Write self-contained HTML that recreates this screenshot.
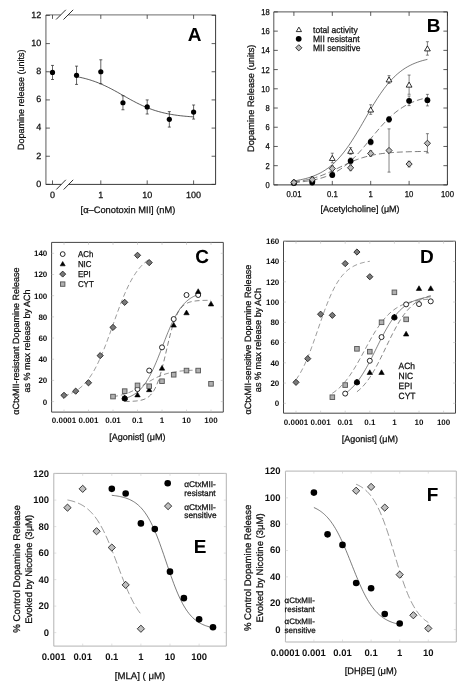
<!DOCTYPE html>
<html><head><meta charset="utf-8"><style>
html,body{margin:0;padding:0;background:#fff;}
svg{display:block;will-change:transform;}
text{font-family:"Liberation Sans", sans-serif;text-rendering:geometricPrecision;}
text.n{stroke:#000;stroke-width:0.25px;}
</style></head><body>
<svg width="465" height="688" viewBox="0 0 465 688">
<rect width="465" height="688" fill="#fff"/>
<line x1="45.90" y1="14.90" x2="215.60" y2="14.90" stroke="#8a8a8a" stroke-width="1.1" />
<line x1="45.90" y1="14.90" x2="45.90" y2="184.40" stroke="#8a8a8a" stroke-width="1.4" />
<line x1="45.90" y1="184.40" x2="215.60" y2="184.40" stroke="#3a3a3a" stroke-width="1.0" />
<line x1="215.60" y1="14.90" x2="215.60" y2="184.40" stroke="#3a3a3a" stroke-width="1.0" />
<rect x="60.6" y="12.9" width="7.6" height="4" fill="#fff"/>
<rect x="61.2" y="182.4" width="7.4" height="4" fill="#fff"/>
<line x1="56.30" y1="189.50" x2="65.80" y2="179.80" stroke="#1a1a1a" stroke-width="0.9" />
<line x1="63.70" y1="189.50" x2="73.20" y2="179.80" stroke="#1a1a1a" stroke-width="0.9" />
<line x1="56.10" y1="19.50" x2="65.80" y2="9.80" stroke="#1a1a1a" stroke-width="0.9" />
<line x1="63.50" y1="19.50" x2="73.20" y2="9.80" stroke="#1a1a1a" stroke-width="0.9" />
<line x1="45.90" y1="184.40" x2="49.90" y2="184.40" stroke="#333" stroke-width="0.8" />
<line x1="215.60" y1="184.40" x2="211.60" y2="184.40" stroke="#333" stroke-width="0.8" />
<text x="41.30" y="186.70" font-size="9" text-anchor="end" font-weight="normal" fill="#1a1a1a"  class="n">0</text>
<line x1="45.90" y1="156.24" x2="49.90" y2="156.24" stroke="#333" stroke-width="0.8" />
<line x1="215.60" y1="156.24" x2="211.60" y2="156.24" stroke="#333" stroke-width="0.8" />
<text x="41.30" y="158.54" font-size="9" text-anchor="end" font-weight="normal" fill="#1a1a1a"  class="n">2</text>
<line x1="45.90" y1="128.08" x2="49.90" y2="128.08" stroke="#333" stroke-width="0.8" />
<line x1="215.60" y1="128.08" x2="211.60" y2="128.08" stroke="#333" stroke-width="0.8" />
<text x="41.30" y="130.38" font-size="9" text-anchor="end" font-weight="normal" fill="#1a1a1a"  class="n">4</text>
<line x1="45.90" y1="99.92" x2="49.90" y2="99.92" stroke="#333" stroke-width="0.8" />
<line x1="215.60" y1="99.92" x2="211.60" y2="99.92" stroke="#333" stroke-width="0.8" />
<text x="41.30" y="102.22" font-size="9" text-anchor="end" font-weight="normal" fill="#1a1a1a"  class="n">6</text>
<line x1="45.90" y1="71.76" x2="49.90" y2="71.76" stroke="#333" stroke-width="0.8" />
<line x1="215.60" y1="71.76" x2="211.60" y2="71.76" stroke="#333" stroke-width="0.8" />
<text x="41.30" y="74.06" font-size="9" text-anchor="end" font-weight="normal" fill="#1a1a1a"  class="n">8</text>
<line x1="45.90" y1="43.60" x2="49.90" y2="43.60" stroke="#333" stroke-width="0.8" />
<line x1="215.60" y1="43.60" x2="211.60" y2="43.60" stroke="#333" stroke-width="0.8" />
<text x="41.30" y="45.90" font-size="9" text-anchor="end" font-weight="normal" fill="#1a1a1a"  class="n">10</text>
<line x1="45.90" y1="15.44" x2="49.90" y2="15.44" stroke="#333" stroke-width="0.8" />
<line x1="215.60" y1="15.44" x2="211.60" y2="15.44" stroke="#333" stroke-width="0.8" />
<text x="41.30" y="17.74" font-size="9" text-anchor="end" font-weight="normal" fill="#1a1a1a"  class="n">12</text>
<line x1="52.50" y1="184.40" x2="52.50" y2="180.40" stroke="#333" stroke-width="0.8" />
<line x1="52.50" y1="14.90" x2="52.50" y2="18.90" stroke="#333" stroke-width="0.8" />
<text x="52.50" y="198.00" font-size="9" text-anchor="middle" font-weight="normal" fill="#1a1a1a"  class="n">0</text>
<line x1="100.80" y1="184.40" x2="100.80" y2="180.40" stroke="#333" stroke-width="0.8" />
<line x1="100.80" y1="14.90" x2="100.80" y2="18.90" stroke="#333" stroke-width="0.8" />
<text x="100.80" y="198.00" font-size="9" text-anchor="middle" font-weight="normal" fill="#1a1a1a"  class="n">1</text>
<line x1="147.20" y1="184.40" x2="147.20" y2="180.40" stroke="#333" stroke-width="0.8" />
<line x1="147.20" y1="14.90" x2="147.20" y2="18.90" stroke="#333" stroke-width="0.8" />
<text x="147.20" y="198.00" font-size="9" text-anchor="middle" font-weight="normal" fill="#1a1a1a"  class="n">10</text>
<line x1="193.60" y1="184.40" x2="193.60" y2="180.40" stroke="#333" stroke-width="0.8" />
<line x1="193.60" y1="14.90" x2="193.60" y2="18.90" stroke="#333" stroke-width="0.8" />
<text x="193.60" y="198.00" font-size="9" text-anchor="middle" font-weight="normal" fill="#1a1a1a"  class="n">100</text>
<text x="128.00" y="212.80" font-size="9.3" text-anchor="middle" font-weight="normal" fill="#1a1a1a"  class="n">[&#945;&#8211;Conotoxin MII] (nM)</text>
<text x="24.10" y="99.70" font-size="9" text-anchor="middle" font-weight="normal" fill="#1a1a1a" transform="rotate(-90 24.10 99.70)"  class="n">Dopamine release (units)</text>
<text x="194.50" y="40.60" font-size="19" text-anchor="middle" font-weight="bold" fill="#000" >A</text>
<path d="M76.54,76.62 L78.00,76.91 L79.46,77.21 L80.93,77.52 L82.39,77.86 L83.85,78.22 L85.32,78.59 L86.78,78.99 L88.24,79.40 L89.71,79.84 L91.17,80.30 L92.63,80.79 L94.10,81.29 L95.56,81.82 L97.02,82.37 L98.49,82.95 L99.95,83.55 L101.41,84.17 L102.88,84.81 L104.34,85.48 L105.80,86.16 L107.27,86.87 L108.73,87.60 L110.19,88.34 L111.66,89.10 L113.12,89.88 L114.58,90.67 L116.05,91.47 L117.51,92.28 L118.97,93.10 L120.44,93.93 L121.90,94.75 L123.36,95.59 L124.83,96.41 L126.29,97.24 L127.75,98.06 L129.22,98.88 L130.68,99.69 L132.14,100.48 L133.61,101.26 L135.07,102.03 L136.53,102.78 L138.00,103.52 L139.46,104.23 L140.92,104.93 L142.39,105.60 L143.85,106.25 L145.31,106.88 L146.78,107.49 L148.24,108.08 L149.70,108.64 L151.17,109.18 L152.63,109.69 L154.09,110.19 L155.55,110.66 L157.02,111.10 L158.48,111.53 L159.94,111.93 L161.41,112.32 L162.87,112.68 L164.33,113.02 L165.80,113.35 L167.26,113.66 L168.72,113.95 L170.19,114.22 L171.65,114.48 L173.11,114.72 L174.58,114.95 L176.04,115.16 L177.50,115.36 L178.97,115.55 L180.43,115.73 L181.89,115.89 L183.36,116.05 L184.82,116.20 L186.28,116.33 L187.75,116.46 L189.21,116.58 L190.67,116.69 L192.14,116.79 L193.60,116.89" fill="none" stroke="#111" stroke-width="0.7"/>
<line x1="52.50" y1="65.42" x2="52.50" y2="79.50" stroke="#222" stroke-width="0.7" />
<line x1="51.00" y1="65.42" x2="54.00" y2="65.42" stroke="#222" stroke-width="0.7" />
<line x1="51.00" y1="79.50" x2="54.00" y2="79.50" stroke="#222" stroke-width="0.7" />
<circle cx="52.50" cy="72.46" r="2.6" fill="#000" stroke="none" stroke-width="0.8"/>
<line x1="76.54" y1="66.13" x2="76.54" y2="84.43" stroke="#222" stroke-width="0.7" />
<line x1="75.04" y1="66.13" x2="78.04" y2="66.13" stroke="#222" stroke-width="0.7" />
<line x1="75.04" y1="84.43" x2="78.04" y2="84.43" stroke="#222" stroke-width="0.7" />
<circle cx="76.54" cy="75.28" r="2.6" fill="#000" stroke="none" stroke-width="0.8"/>
<line x1="100.80" y1="59.79" x2="100.80" y2="83.73" stroke="#222" stroke-width="0.7" />
<line x1="99.30" y1="59.79" x2="102.30" y2="59.79" stroke="#222" stroke-width="0.7" />
<line x1="99.30" y1="83.73" x2="102.30" y2="83.73" stroke="#222" stroke-width="0.7" />
<circle cx="100.80" cy="71.76" r="2.6" fill="#000" stroke="none" stroke-width="0.8"/>
<line x1="122.94" y1="95.70" x2="122.94" y2="109.78" stroke="#222" stroke-width="0.7" />
<line x1="121.44" y1="95.70" x2="124.44" y2="95.70" stroke="#222" stroke-width="0.7" />
<line x1="121.44" y1="109.78" x2="124.44" y2="109.78" stroke="#222" stroke-width="0.7" />
<circle cx="122.94" cy="102.74" r="2.6" fill="#000" stroke="none" stroke-width="0.8"/>
<line x1="147.20" y1="99.92" x2="147.20" y2="114.00" stroke="#222" stroke-width="0.7" />
<line x1="145.70" y1="99.92" x2="148.70" y2="99.92" stroke="#222" stroke-width="0.7" />
<line x1="145.70" y1="114.00" x2="148.70" y2="114.00" stroke="#222" stroke-width="0.7" />
<circle cx="147.20" cy="106.96" r="2.6" fill="#000" stroke="none" stroke-width="0.8"/>
<line x1="169.34" y1="111.61" x2="169.34" y2="127.09" stroke="#222" stroke-width="0.7" />
<line x1="167.84" y1="111.61" x2="170.84" y2="111.61" stroke="#222" stroke-width="0.7" />
<line x1="167.84" y1="127.09" x2="170.84" y2="127.09" stroke="#222" stroke-width="0.7" />
<circle cx="169.34" cy="119.35" r="2.6" fill="#000" stroke="none" stroke-width="0.8"/>
<line x1="193.60" y1="104.99" x2="193.60" y2="119.07" stroke="#222" stroke-width="0.7" />
<line x1="192.10" y1="104.99" x2="195.10" y2="104.99" stroke="#222" stroke-width="0.7" />
<line x1="192.10" y1="119.07" x2="195.10" y2="119.07" stroke="#222" stroke-width="0.7" />
<circle cx="193.60" cy="112.03" r="2.6" fill="#000" stroke="none" stroke-width="0.8"/>
<line x1="273.80" y1="11.90" x2="447.40" y2="11.90" stroke="#555" stroke-width="1.0" />
<line x1="273.80" y1="11.90" x2="273.80" y2="184.90" stroke="#555" stroke-width="1.0" />
<line x1="273.80" y1="184.90" x2="447.40" y2="184.90" stroke="#3a3a3a" stroke-width="1.0" />
<line x1="447.40" y1="11.90" x2="447.40" y2="184.90" stroke="#3a3a3a" stroke-width="1.0" />
<line x1="273.80" y1="184.90" x2="277.80" y2="184.90" stroke="#333" stroke-width="0.8" />
<line x1="447.40" y1="184.90" x2="443.40" y2="184.90" stroke="#333" stroke-width="0.8" />
<text x="0" y="0" font-size="8.6" text-anchor="end" font-weight="normal" fill="#1a1a1a" transform="translate(269.60 187.90) scale(0.88 1)"  class="n">0</text>
<line x1="273.80" y1="165.68" x2="277.80" y2="165.68" stroke="#333" stroke-width="0.8" />
<line x1="447.40" y1="165.68" x2="443.40" y2="165.68" stroke="#333" stroke-width="0.8" />
<text x="0" y="0" font-size="8.6" text-anchor="end" font-weight="normal" fill="#1a1a1a" transform="translate(269.60 168.68) scale(0.88 1)"  class="n">2</text>
<line x1="273.80" y1="146.46" x2="277.80" y2="146.46" stroke="#333" stroke-width="0.8" />
<line x1="447.40" y1="146.46" x2="443.40" y2="146.46" stroke="#333" stroke-width="0.8" />
<text x="0" y="0" font-size="8.6" text-anchor="end" font-weight="normal" fill="#1a1a1a" transform="translate(269.60 149.46) scale(0.88 1)"  class="n">4</text>
<line x1="273.80" y1="127.24" x2="277.80" y2="127.24" stroke="#333" stroke-width="0.8" />
<line x1="447.40" y1="127.24" x2="443.40" y2="127.24" stroke="#333" stroke-width="0.8" />
<text x="0" y="0" font-size="8.6" text-anchor="end" font-weight="normal" fill="#1a1a1a" transform="translate(269.60 130.24) scale(0.88 1)"  class="n">6</text>
<line x1="273.80" y1="108.02" x2="277.80" y2="108.02" stroke="#333" stroke-width="0.8" />
<line x1="447.40" y1="108.02" x2="443.40" y2="108.02" stroke="#333" stroke-width="0.8" />
<text x="0" y="0" font-size="8.6" text-anchor="end" font-weight="normal" fill="#1a1a1a" transform="translate(269.60 111.02) scale(0.88 1)"  class="n">8</text>
<line x1="273.80" y1="88.80" x2="277.80" y2="88.80" stroke="#333" stroke-width="0.8" />
<line x1="447.40" y1="88.80" x2="443.40" y2="88.80" stroke="#333" stroke-width="0.8" />
<text x="0" y="0" font-size="8.6" text-anchor="end" font-weight="normal" fill="#1a1a1a" transform="translate(269.60 91.80) scale(0.88 1)"  class="n">10</text>
<line x1="273.80" y1="69.58" x2="277.80" y2="69.58" stroke="#333" stroke-width="0.8" />
<line x1="447.40" y1="69.58" x2="443.40" y2="69.58" stroke="#333" stroke-width="0.8" />
<text x="0" y="0" font-size="8.6" text-anchor="end" font-weight="normal" fill="#1a1a1a" transform="translate(269.60 72.58) scale(0.88 1)"  class="n">12</text>
<line x1="273.80" y1="50.36" x2="277.80" y2="50.36" stroke="#333" stroke-width="0.8" />
<line x1="447.40" y1="50.36" x2="443.40" y2="50.36" stroke="#333" stroke-width="0.8" />
<text x="0" y="0" font-size="8.6" text-anchor="end" font-weight="normal" fill="#1a1a1a" transform="translate(269.60 53.36) scale(0.88 1)"  class="n">14</text>
<line x1="273.80" y1="31.14" x2="277.80" y2="31.14" stroke="#333" stroke-width="0.8" />
<line x1="447.40" y1="31.14" x2="443.40" y2="31.14" stroke="#333" stroke-width="0.8" />
<text x="0" y="0" font-size="8.6" text-anchor="end" font-weight="normal" fill="#1a1a1a" transform="translate(269.60 34.14) scale(0.88 1)"  class="n">16</text>
<line x1="273.80" y1="11.92" x2="277.80" y2="11.92" stroke="#333" stroke-width="0.8" />
<line x1="447.40" y1="11.92" x2="443.40" y2="11.92" stroke="#333" stroke-width="0.8" />
<text x="0" y="0" font-size="8.6" text-anchor="end" font-weight="normal" fill="#1a1a1a" transform="translate(269.60 14.92) scale(0.88 1)"  class="n">18</text>
<line x1="293.90" y1="184.90" x2="293.90" y2="180.90" stroke="#333" stroke-width="0.8" />
<line x1="293.90" y1="11.90" x2="293.90" y2="15.90" stroke="#333" stroke-width="0.8" />
<text x="0" y="0" font-size="8.6" text-anchor="middle" font-weight="normal" fill="#1a1a1a" transform="translate(293.90 197.20) scale(0.9 1)"  class="n">0.01</text>
<line x1="332.30" y1="184.90" x2="332.30" y2="180.90" stroke="#333" stroke-width="0.8" />
<line x1="332.30" y1="11.90" x2="332.30" y2="15.90" stroke="#333" stroke-width="0.8" />
<text x="0" y="0" font-size="8.6" text-anchor="middle" font-weight="normal" fill="#1a1a1a" transform="translate(332.30 197.20) scale(0.9 1)"  class="n">0.1</text>
<line x1="370.70" y1="184.90" x2="370.70" y2="180.90" stroke="#333" stroke-width="0.8" />
<line x1="370.70" y1="11.90" x2="370.70" y2="15.90" stroke="#333" stroke-width="0.8" />
<text x="0" y="0" font-size="8.6" text-anchor="middle" font-weight="normal" fill="#1a1a1a" transform="translate(370.70 197.20) scale(0.9 1)"  class="n">1</text>
<line x1="409.10" y1="184.90" x2="409.10" y2="180.90" stroke="#333" stroke-width="0.8" />
<line x1="409.10" y1="11.90" x2="409.10" y2="15.90" stroke="#333" stroke-width="0.8" />
<text x="0" y="0" font-size="8.6" text-anchor="middle" font-weight="normal" fill="#1a1a1a" transform="translate(409.10 197.20) scale(0.9 1)"  class="n">10</text>
<line x1="447.50" y1="184.90" x2="447.50" y2="180.90" stroke="#333" stroke-width="0.8" />
<line x1="447.50" y1="11.90" x2="447.50" y2="15.90" stroke="#333" stroke-width="0.8" />
<text x="0" y="0" font-size="8.6" text-anchor="middle" font-weight="normal" fill="#1a1a1a" transform="translate(447.50 197.20) scale(0.9 1)"  class="n">100</text>
<text x="360.00" y="212.00" font-size="9" text-anchor="middle" font-weight="normal" fill="#1a1a1a"  class="n">[Acetylcholine] (&#956;M)</text>
<text x="254.10" y="98.30" font-size="9.3" text-anchor="middle" font-weight="normal" fill="#1a1a1a" transform="rotate(-90 254.10 98.30)"  class="n">Dopamine Release (units)</text>
<text x="433.50" y="31.50" font-size="19" text-anchor="middle" font-weight="bold" fill="#000" >B</text>
<polygon points="296.30,31.60 301.50,31.60 298.90,27.10" fill="#fff" stroke="#000" stroke-width="0.8" stroke-linejoin="miter"/>
<circle cx="298.70" cy="38.80" r="2.9" fill="#000" stroke="none" stroke-width="0.8"/>
<polygon points="298.80,44.70 301.90,47.80 298.80,50.90 295.70,47.80" fill="#bbb" stroke="#222" stroke-width="0.9"/>
<text x="0" y="0" font-size="9" text-anchor="start" font-weight="normal" fill="#1a1a1a" transform="translate(313.00 33.40) scale(0.95 1)"  class="n">total activity</text>
<text x="0" y="0" font-size="9" text-anchor="start" font-weight="normal" fill="#1a1a1a" transform="translate(313.00 42.10) scale(0.95 1)"  class="n">MII resistant</text>
<text x="0" y="0" font-size="9" text-anchor="start" font-weight="normal" fill="#1a1a1a" transform="translate(313.00 50.80) scale(0.95 1)"  class="n">MII sensitive</text>
<path d="M293.90,180.90 L295.57,180.65 L297.24,180.38 L298.91,180.07 L300.58,179.75 L302.25,179.39 L303.91,179.01 L305.58,178.59 L307.25,178.13 L308.92,177.63 L310.59,177.09 L312.26,176.51 L313.93,175.88 L315.60,175.19 L317.27,174.45 L318.94,173.65 L320.60,172.79 L322.27,171.86 L323.94,170.86 L325.61,169.79 L327.28,168.63 L328.95,167.40 L330.62,166.07 L332.29,164.66 L333.96,163.16 L335.63,161.56 L337.29,159.86 L338.96,158.06 L340.63,156.17 L342.30,154.17 L343.97,152.08 L345.64,149.88 L347.31,147.59 L348.98,145.21 L350.65,142.74 L352.32,140.19 L353.98,137.56 L355.65,134.87 L357.32,132.12 L358.99,129.31 L360.66,126.47 L362.33,123.60 L364.00,120.71 L365.67,117.82 L367.34,114.93 L369.01,112.07 L370.67,109.23 L372.34,106.43 L374.01,103.68 L375.68,100.99 L377.35,98.37 L379.02,95.83 L380.69,93.37 L382.36,90.99 L384.03,88.71 L385.70,86.53 L387.37,84.44 L389.03,82.46 L390.70,80.57 L392.37,78.79 L394.04,77.10 L395.71,75.51 L397.38,74.01 L399.05,72.61 L400.72,71.30 L402.39,70.07 L404.06,68.92 L405.72,67.85 L407.39,66.86 L409.06,65.94 L410.73,65.08 L412.40,64.29 L414.07,63.55 L415.74,62.87 L417.41,62.25 L419.08,61.67 L420.75,61.13 L422.41,60.64 L424.08,60.19 L425.75,59.77 L427.42,59.39" fill="none" stroke="#222" stroke-width="0.6"/>
<path d="M293.90,182.53 L295.57,182.40 L297.24,182.26 L298.91,182.10 L300.58,181.93 L302.25,181.75 L303.91,181.55 L305.58,181.33 L307.25,181.09 L308.92,180.83 L310.59,180.55 L312.26,180.24 L313.93,179.91 L315.60,179.55 L317.27,179.15 L318.94,178.73 L320.60,178.27 L322.27,177.77 L323.94,177.23 L325.61,176.65 L327.28,176.03 L328.95,175.35 L330.62,174.62 L332.29,173.84 L333.96,173.01 L335.63,172.11 L337.29,171.16 L338.96,170.13 L340.63,169.05 L342.30,167.89 L343.97,166.67 L345.64,165.38 L347.31,164.01 L348.98,162.58 L350.65,161.08 L352.32,159.50 L353.98,157.87 L355.65,156.16 L357.32,154.40 L358.99,152.59 L360.66,150.72 L362.33,148.80 L364.00,146.85 L365.67,144.87 L367.34,142.86 L369.01,140.84 L370.67,138.80 L372.34,136.77 L374.01,134.75 L375.68,132.74 L377.35,130.75 L379.02,128.80 L380.69,126.88 L382.36,125.01 L384.03,123.20 L385.70,121.43 L387.37,119.73 L389.03,118.09 L390.70,116.51 L392.37,115.01 L394.04,113.57 L395.71,112.21 L397.38,110.91 L399.05,109.69 L400.72,108.53 L402.39,107.44 L404.06,106.42 L405.72,105.46 L407.39,104.56 L409.06,103.72 L410.73,102.94 L412.40,102.21 L414.07,101.54 L415.74,100.91 L417.41,100.33 L419.08,99.79 L420.75,99.29 L422.41,98.83 L424.08,98.40 L425.75,98.01 L427.42,97.65" fill="none" stroke="#222" stroke-width="0.6" stroke-dasharray="6,3"/>
<path d="M293.90,181.90 L295.57,181.70 L297.24,181.48 L298.91,181.24 L300.58,180.98 L302.25,180.70 L303.91,180.40 L305.58,180.07 L307.25,179.72 L308.92,179.33 L310.59,178.92 L312.26,178.48 L313.93,178.01 L315.60,177.51 L317.27,176.98 L318.94,176.42 L320.60,175.82 L322.27,175.19 L323.94,174.54 L325.61,173.85 L327.28,173.14 L328.95,172.41 L330.62,171.65 L332.29,170.88 L333.96,170.08 L335.63,169.28 L337.29,168.47 L338.96,167.65 L340.63,166.83 L342.30,166.02 L343.97,165.21 L345.64,164.42 L347.31,163.64 L348.98,162.88 L350.65,162.15 L352.32,161.43 L353.98,160.74 L355.65,160.09 L357.32,159.46 L358.99,158.86 L360.66,158.29 L362.33,157.75 L364.00,157.25 L365.67,156.77 L367.34,156.33 L369.01,155.92 L370.67,155.53 L372.34,155.17 L374.01,154.84 L375.68,154.54 L377.35,154.25 L379.02,153.99 L380.69,153.75 L382.36,153.53 L384.03,153.33 L385.70,153.14 L387.37,152.97 L389.03,152.82 L390.70,152.68 L392.37,152.55 L394.04,152.43 L395.71,152.32 L397.38,152.23 L399.05,152.14 L400.72,152.06 L402.39,151.98 L404.06,151.92 L405.72,151.85 L407.39,151.80 L409.06,151.75 L410.73,151.70 L412.40,151.66 L414.07,151.62 L415.74,151.59 L417.41,151.56 L419.08,151.53 L420.75,151.51 L422.41,151.48 L424.08,151.46 L425.75,151.44 L427.42,151.43" fill="none" stroke="#222" stroke-width="0.6" stroke-dasharray="6,3"/>
<line x1="293.90" y1="180.29" x2="293.90" y2="183.17" stroke="#333" stroke-width="0.6" />
<line x1="292.40" y1="180.29" x2="295.40" y2="180.29" stroke="#333" stroke-width="0.6" />
<line x1="292.40" y1="183.17" x2="295.40" y2="183.17" stroke="#333" stroke-width="0.6" />
<line x1="312.22" y1="176.83" x2="312.22" y2="180.67" stroke="#333" stroke-width="0.6" />
<line x1="310.72" y1="176.83" x2="313.72" y2="176.83" stroke="#333" stroke-width="0.6" />
<line x1="310.72" y1="180.67" x2="313.72" y2="180.67" stroke="#333" stroke-width="0.6" />
<line x1="332.30" y1="153.19" x2="332.30" y2="162.80" stroke="#333" stroke-width="0.6" />
<line x1="330.80" y1="153.19" x2="333.80" y2="153.19" stroke="#333" stroke-width="0.6" />
<line x1="330.80" y1="162.80" x2="333.80" y2="162.80" stroke="#333" stroke-width="0.6" />
<line x1="350.62" y1="147.52" x2="350.62" y2="154.24" stroke="#333" stroke-width="0.6" />
<line x1="349.12" y1="147.52" x2="352.12" y2="147.52" stroke="#333" stroke-width="0.6" />
<line x1="349.12" y1="154.24" x2="352.12" y2="154.24" stroke="#333" stroke-width="0.6" />
<line x1="370.70" y1="104.75" x2="370.70" y2="114.36" stroke="#333" stroke-width="0.6" />
<line x1="369.20" y1="104.75" x2="372.20" y2="104.75" stroke="#333" stroke-width="0.6" />
<line x1="369.20" y1="114.36" x2="372.20" y2="114.36" stroke="#333" stroke-width="0.6" />
<line x1="389.02" y1="75.63" x2="389.02" y2="83.32" stroke="#333" stroke-width="0.6" />
<line x1="387.52" y1="75.63" x2="390.52" y2="75.63" stroke="#333" stroke-width="0.6" />
<line x1="387.52" y1="83.32" x2="390.52" y2="83.32" stroke="#333" stroke-width="0.6" />
<line x1="409.10" y1="75.06" x2="409.10" y2="94.28" stroke="#333" stroke-width="0.6" />
<line x1="407.60" y1="75.06" x2="410.60" y2="75.06" stroke="#333" stroke-width="0.6" />
<line x1="407.60" y1="94.28" x2="410.60" y2="94.28" stroke="#333" stroke-width="0.6" />
<line x1="427.42" y1="41.71" x2="427.42" y2="55.17" stroke="#333" stroke-width="0.6" />
<line x1="425.92" y1="41.71" x2="428.92" y2="41.71" stroke="#333" stroke-width="0.6" />
<line x1="425.92" y1="55.17" x2="428.92" y2="55.17" stroke="#333" stroke-width="0.6" />
<line x1="293.90" y1="182.02" x2="293.90" y2="183.94" stroke="#333" stroke-width="0.6" />
<line x1="292.40" y1="182.02" x2="295.40" y2="182.02" stroke="#333" stroke-width="0.6" />
<line x1="292.40" y1="183.94" x2="295.40" y2="183.94" stroke="#333" stroke-width="0.6" />
<line x1="312.22" y1="181.54" x2="312.22" y2="183.46" stroke="#333" stroke-width="0.6" />
<line x1="310.72" y1="181.54" x2="313.72" y2="181.54" stroke="#333" stroke-width="0.6" />
<line x1="310.72" y1="183.46" x2="313.72" y2="183.46" stroke="#333" stroke-width="0.6" />
<line x1="332.30" y1="173.08" x2="332.30" y2="176.92" stroke="#333" stroke-width="0.6" />
<line x1="330.80" y1="173.08" x2="333.80" y2="173.08" stroke="#333" stroke-width="0.6" />
<line x1="330.80" y1="176.92" x2="333.80" y2="176.92" stroke="#333" stroke-width="0.6" />
<line x1="350.62" y1="157.99" x2="350.62" y2="163.76" stroke="#333" stroke-width="0.6" />
<line x1="349.12" y1="157.99" x2="352.12" y2="157.99" stroke="#333" stroke-width="0.6" />
<line x1="349.12" y1="163.76" x2="352.12" y2="163.76" stroke="#333" stroke-width="0.6" />
<line x1="370.70" y1="139.06" x2="370.70" y2="144.83" stroke="#333" stroke-width="0.6" />
<line x1="369.20" y1="139.06" x2="372.20" y2="139.06" stroke="#333" stroke-width="0.6" />
<line x1="369.20" y1="144.83" x2="372.20" y2="144.83" stroke="#333" stroke-width="0.6" />
<line x1="389.02" y1="116.48" x2="389.02" y2="122.24" stroke="#333" stroke-width="0.6" />
<line x1="387.52" y1="116.48" x2="390.52" y2="116.48" stroke="#333" stroke-width="0.6" />
<line x1="387.52" y1="122.24" x2="390.52" y2="122.24" stroke="#333" stroke-width="0.6" />
<line x1="409.10" y1="96.01" x2="409.10" y2="105.62" stroke="#333" stroke-width="0.6" />
<line x1="407.60" y1="96.01" x2="410.60" y2="96.01" stroke="#333" stroke-width="0.6" />
<line x1="407.60" y1="105.62" x2="410.60" y2="105.62" stroke="#333" stroke-width="0.6" />
<line x1="427.42" y1="94.37" x2="427.42" y2="105.91" stroke="#333" stroke-width="0.6" />
<line x1="425.92" y1="94.37" x2="428.92" y2="94.37" stroke="#333" stroke-width="0.6" />
<line x1="425.92" y1="105.91" x2="428.92" y2="105.91" stroke="#333" stroke-width="0.6" />
<line x1="293.90" y1="181.54" x2="293.90" y2="183.46" stroke="#333" stroke-width="0.6" />
<line x1="292.40" y1="181.54" x2="295.40" y2="181.54" stroke="#333" stroke-width="0.6" />
<line x1="292.40" y1="183.46" x2="295.40" y2="183.46" stroke="#333" stroke-width="0.6" />
<line x1="312.22" y1="177.69" x2="312.22" y2="181.54" stroke="#333" stroke-width="0.6" />
<line x1="310.72" y1="177.69" x2="313.72" y2="177.69" stroke="#333" stroke-width="0.6" />
<line x1="310.72" y1="181.54" x2="313.72" y2="181.54" stroke="#333" stroke-width="0.6" />
<line x1="332.30" y1="165.68" x2="332.30" y2="171.45" stroke="#333" stroke-width="0.6" />
<line x1="330.80" y1="165.68" x2="333.80" y2="165.68" stroke="#333" stroke-width="0.6" />
<line x1="330.80" y1="171.45" x2="333.80" y2="171.45" stroke="#333" stroke-width="0.6" />
<line x1="350.62" y1="164.91" x2="350.62" y2="170.68" stroke="#333" stroke-width="0.6" />
<line x1="349.12" y1="164.91" x2="352.12" y2="164.91" stroke="#333" stroke-width="0.6" />
<line x1="349.12" y1="170.68" x2="352.12" y2="170.68" stroke="#333" stroke-width="0.6" />
<line x1="370.70" y1="150.59" x2="370.70" y2="156.36" stroke="#333" stroke-width="0.6" />
<line x1="369.20" y1="150.59" x2="372.20" y2="150.59" stroke="#333" stroke-width="0.6" />
<line x1="369.20" y1="156.36" x2="372.20" y2="156.36" stroke="#333" stroke-width="0.6" />
<line x1="389.02" y1="128.87" x2="389.02" y2="172.12" stroke="#333" stroke-width="0.6" />
<line x1="387.52" y1="128.87" x2="390.52" y2="128.87" stroke="#333" stroke-width="0.6" />
<line x1="387.52" y1="172.12" x2="390.52" y2="172.12" stroke="#333" stroke-width="0.6" />
<line x1="409.10" y1="161.16" x2="409.10" y2="166.93" stroke="#333" stroke-width="0.6" />
<line x1="407.60" y1="161.16" x2="410.60" y2="161.16" stroke="#333" stroke-width="0.6" />
<line x1="407.60" y1="166.93" x2="410.60" y2="166.93" stroke="#333" stroke-width="0.6" />
<line x1="427.42" y1="133.68" x2="427.42" y2="152.90" stroke="#333" stroke-width="0.6" />
<line x1="425.92" y1="133.68" x2="428.92" y2="133.68" stroke="#333" stroke-width="0.6" />
<line x1="425.92" y1="152.90" x2="428.92" y2="152.90" stroke="#333" stroke-width="0.6" />
<polygon points="291.00,184.20 296.80,184.20 293.90,179.18" fill="#fff" stroke="#000" stroke-width="0.8" stroke-linejoin="miter"/>
<polygon points="309.32,181.22 315.12,181.22 312.22,176.20" fill="#fff" stroke="#000" stroke-width="0.8" stroke-linejoin="miter"/>
<polygon points="329.40,160.47 335.20,160.47 332.30,155.44" fill="#fff" stroke="#000" stroke-width="0.8" stroke-linejoin="miter"/>
<polygon points="347.72,153.35 353.52,153.35 350.62,148.33" fill="#fff" stroke="#000" stroke-width="0.8" stroke-linejoin="miter"/>
<polygon points="367.80,112.03 373.60,112.03 370.70,107.01" fill="#fff" stroke="#000" stroke-width="0.8" stroke-linejoin="miter"/>
<polygon points="386.12,81.95 391.92,81.95 389.02,76.93" fill="#fff" stroke="#000" stroke-width="0.8" stroke-linejoin="miter"/>
<polygon points="406.20,87.14 412.00,87.14 409.10,82.12" fill="#fff" stroke="#000" stroke-width="0.8" stroke-linejoin="miter"/>
<polygon points="424.52,50.91 430.32,50.91 427.42,45.89" fill="#fff" stroke="#000" stroke-width="0.8" stroke-linejoin="miter"/>
<circle cx="293.90" cy="182.98" r="2.9" fill="#000" stroke="none" stroke-width="0.8"/>
<circle cx="312.22" cy="182.50" r="2.9" fill="#000" stroke="none" stroke-width="0.8"/>
<circle cx="332.30" cy="175.00" r="2.9" fill="#000" stroke="none" stroke-width="0.8"/>
<circle cx="350.62" cy="160.88" r="2.9" fill="#000" stroke="none" stroke-width="0.8"/>
<circle cx="370.70" cy="141.94" r="2.9" fill="#000" stroke="none" stroke-width="0.8"/>
<circle cx="389.02" cy="119.36" r="2.9" fill="#000" stroke="none" stroke-width="0.8"/>
<circle cx="409.10" cy="100.81" r="2.9" fill="#000" stroke="none" stroke-width="0.8"/>
<circle cx="427.42" cy="100.14" r="2.9" fill="#000" stroke="none" stroke-width="0.8"/>
<polygon points="293.90,179.40 297.00,182.50 293.90,185.60 290.80,182.50" fill="#bbb" stroke="#222" stroke-width="0.9"/>
<polygon points="312.22,176.51 315.32,179.61 312.22,182.71 309.12,179.61" fill="#bbb" stroke="#222" stroke-width="0.9"/>
<polygon points="332.30,165.46 335.40,168.56 332.30,171.66 329.20,168.56" fill="#bbb" stroke="#222" stroke-width="0.9"/>
<polygon points="350.62,164.69 353.72,167.79 350.62,170.89 347.52,167.79" fill="#bbb" stroke="#222" stroke-width="0.9"/>
<polygon points="370.70,150.38 373.80,153.48 370.70,156.58 367.60,153.48" fill="#bbb" stroke="#222" stroke-width="0.9"/>
<polygon points="389.02,147.40 392.12,150.50 389.02,153.60 385.92,150.50" fill="#bbb" stroke="#222" stroke-width="0.9"/>
<polygon points="409.10,160.95 412.20,164.05 409.10,167.15 406.00,164.05" fill="#bbb" stroke="#222" stroke-width="0.9"/>
<polygon points="427.42,140.19 430.52,143.29 427.42,146.39 424.32,143.29" fill="#bbb" stroke="#222" stroke-width="0.9"/>
<line x1="51.60" y1="242.40" x2="223.30" y2="242.40" stroke="#444" stroke-width="1.0" />
<line x1="51.60" y1="242.40" x2="51.60" y2="412.10" stroke="#444" stroke-width="1.0" />
<line x1="51.60" y1="412.10" x2="223.30" y2="412.10" stroke="#444" stroke-width="1.0" />
<line x1="223.30" y1="242.40" x2="223.30" y2="412.10" stroke="#444" stroke-width="1.0" />
<line x1="51.60" y1="401.60" x2="54.10" y2="401.60" stroke="#bbb" stroke-width="0.6" />
<line x1="223.30" y1="401.60" x2="220.80" y2="401.60" stroke="#bbb" stroke-width="0.6" />
<text x="47.30" y="404.50" font-size="8" text-anchor="end" font-weight="bold" fill="#111" >0</text>
<line x1="51.60" y1="380.42" x2="54.10" y2="380.42" stroke="#bbb" stroke-width="0.6" />
<line x1="223.30" y1="380.42" x2="220.80" y2="380.42" stroke="#bbb" stroke-width="0.6" />
<text x="47.30" y="383.32" font-size="8" text-anchor="end" font-weight="bold" fill="#111" >20</text>
<line x1="51.60" y1="359.24" x2="54.10" y2="359.24" stroke="#bbb" stroke-width="0.6" />
<line x1="223.30" y1="359.24" x2="220.80" y2="359.24" stroke="#bbb" stroke-width="0.6" />
<text x="47.30" y="362.14" font-size="8" text-anchor="end" font-weight="bold" fill="#111" >40</text>
<line x1="51.60" y1="338.06" x2="54.10" y2="338.06" stroke="#bbb" stroke-width="0.6" />
<line x1="223.30" y1="338.06" x2="220.80" y2="338.06" stroke="#bbb" stroke-width="0.6" />
<text x="47.30" y="340.96" font-size="8" text-anchor="end" font-weight="bold" fill="#111" >60</text>
<line x1="51.60" y1="316.88" x2="54.10" y2="316.88" stroke="#bbb" stroke-width="0.6" />
<line x1="223.30" y1="316.88" x2="220.80" y2="316.88" stroke="#bbb" stroke-width="0.6" />
<text x="47.30" y="319.78" font-size="8" text-anchor="end" font-weight="bold" fill="#111" >80</text>
<line x1="51.60" y1="295.70" x2="54.10" y2="295.70" stroke="#bbb" stroke-width="0.6" />
<line x1="223.30" y1="295.70" x2="220.80" y2="295.70" stroke="#bbb" stroke-width="0.6" />
<text x="47.30" y="298.60" font-size="8" text-anchor="end" font-weight="bold" fill="#111" >100</text>
<line x1="51.60" y1="274.52" x2="54.10" y2="274.52" stroke="#bbb" stroke-width="0.6" />
<line x1="223.30" y1="274.52" x2="220.80" y2="274.52" stroke="#bbb" stroke-width="0.6" />
<text x="47.30" y="277.42" font-size="8" text-anchor="end" font-weight="bold" fill="#111" >120</text>
<line x1="51.60" y1="253.34" x2="54.10" y2="253.34" stroke="#bbb" stroke-width="0.6" />
<line x1="223.30" y1="253.34" x2="220.80" y2="253.34" stroke="#bbb" stroke-width="0.6" />
<text x="47.30" y="256.24" font-size="8" text-anchor="end" font-weight="bold" fill="#111" >140</text>
<line x1="64.00" y1="412.10" x2="64.00" y2="409.60" stroke="#bbb" stroke-width="0.6" />
<line x1="64.00" y1="242.40" x2="64.00" y2="244.90" stroke="#bbb" stroke-width="0.6" />
<text x="64.00" y="423.40" font-size="8" text-anchor="middle" font-weight="bold" fill="#111" >0.0001</text>
<line x1="88.50" y1="412.10" x2="88.50" y2="409.60" stroke="#bbb" stroke-width="0.6" />
<line x1="88.50" y1="242.40" x2="88.50" y2="244.90" stroke="#bbb" stroke-width="0.6" />
<text x="88.50" y="423.40" font-size="8" text-anchor="middle" font-weight="bold" fill="#111" >0.001</text>
<line x1="113.00" y1="412.10" x2="113.00" y2="409.60" stroke="#bbb" stroke-width="0.6" />
<line x1="113.00" y1="242.40" x2="113.00" y2="244.90" stroke="#bbb" stroke-width="0.6" />
<text x="113.00" y="423.40" font-size="8" text-anchor="middle" font-weight="bold" fill="#111" >0.01</text>
<line x1="137.50" y1="412.10" x2="137.50" y2="409.60" stroke="#bbb" stroke-width="0.6" />
<line x1="137.50" y1="242.40" x2="137.50" y2="244.90" stroke="#bbb" stroke-width="0.6" />
<text x="137.50" y="423.40" font-size="8" text-anchor="middle" font-weight="bold" fill="#111" >0.1</text>
<line x1="162.00" y1="412.10" x2="162.00" y2="409.60" stroke="#bbb" stroke-width="0.6" />
<line x1="162.00" y1="242.40" x2="162.00" y2="244.90" stroke="#bbb" stroke-width="0.6" />
<text x="162.00" y="423.40" font-size="8" text-anchor="middle" font-weight="bold" fill="#111" >1</text>
<line x1="186.50" y1="412.10" x2="186.50" y2="409.60" stroke="#bbb" stroke-width="0.6" />
<line x1="186.50" y1="242.40" x2="186.50" y2="244.90" stroke="#bbb" stroke-width="0.6" />
<text x="186.50" y="423.40" font-size="8" text-anchor="middle" font-weight="bold" fill="#111" >10</text>
<line x1="211.00" y1="412.10" x2="211.00" y2="409.60" stroke="#bbb" stroke-width="0.6" />
<line x1="211.00" y1="242.40" x2="211.00" y2="244.90" stroke="#bbb" stroke-width="0.6" />
<text x="211.00" y="423.40" font-size="8" text-anchor="middle" font-weight="bold" fill="#111" >100</text>
<text x="137.30" y="440.30" font-size="9" text-anchor="middle" font-weight="normal" fill="#1a1a1a"  class="n">[Agonist] (&#956;M)</text>
<text x="19.20" y="341.10" font-size="9" text-anchor="middle" font-weight="normal" fill="#1a1a1a" transform="rotate(-90 19.20 341.10)"  class="n">&#945;CtxMII-resistant Dopamine Release</text>
<text x="29.80" y="341.00" font-size="9" text-anchor="middle" font-weight="normal" fill="#1a1a1a" transform="rotate(-90 29.80 341.00)"  class="n">as % max release by ACh</text>
<text x="202.00" y="262.60" font-size="19" text-anchor="middle" font-weight="bold" fill="#000" >C</text>
<circle cx="62.70" cy="254.10" r="2.4" fill="#fff" stroke="#111" stroke-width="0.9"/>
<polygon points="60.20,265.84 65.20,265.84 62.70,261.51" fill="#000" stroke="#000" stroke-width="0.6" stroke-linejoin="miter"/>
<polygon points="62.70,271.10 65.70,274.10 62.70,277.10 59.70,274.10" fill="#7a7a7a" stroke="#222" stroke-width="0.9"/>
<rect x="60.50" y="281.90" width="4.40" height="4.40" fill="#b0b0b0" stroke="#555" stroke-width="0.9"/>
<text x="0" y="0" font-size="8.6" text-anchor="start" font-weight="normal" fill="#1a1a1a" transform="translate(77.90 257.10) scale(0.92 1)"  class="n">ACh</text>
<text x="0" y="0" font-size="8.6" text-anchor="start" font-weight="normal" fill="#1a1a1a" transform="translate(77.90 267.10) scale(0.92 1)"  class="n">NIC</text>
<text x="0" y="0" font-size="8.6" text-anchor="start" font-weight="normal" fill="#1a1a1a" transform="translate(77.90 277.10) scale(0.92 1)"  class="n">EPI</text>
<text x="0" y="0" font-size="8.6" text-anchor="start" font-weight="normal" fill="#1a1a1a" transform="translate(77.90 287.10) scale(0.92 1)"  class="n">CYT</text>
<path d="M64.00,395.85 L65.06,395.55 L66.13,395.23 L67.19,394.88 L68.26,394.51 L69.32,394.11 L70.39,393.68 L71.45,393.21 L72.52,392.71 L73.58,392.17 L74.65,391.59 L75.71,390.97 L76.78,390.30 L77.84,389.59 L78.91,388.82 L79.97,388.00 L81.04,387.12 L82.10,386.18 L83.17,385.17 L84.23,384.10 L85.30,382.96 L86.36,381.74 L87.43,380.45 L88.49,379.08 L89.56,377.62 L90.62,376.08 L91.69,374.46 L92.75,372.75 L93.82,370.94 L94.88,369.04 L95.95,367.06 L97.01,364.98 L98.08,362.81 L99.14,360.54 L100.21,358.19 L101.27,355.76 L102.34,353.24 L103.40,350.64 L104.46,347.98 L105.53,345.24 L106.59,342.44 L107.66,339.59 L108.72,336.70 L109.79,333.77 L110.85,330.81 L111.92,327.83 L112.98,324.84 L114.05,321.85 L115.11,318.87 L116.18,315.91 L117.24,312.97 L118.31,310.08 L119.37,307.23 L120.44,304.43 L121.50,301.69 L122.57,299.02 L123.63,296.42 L124.70,293.90 L125.76,291.46 L126.83,289.11 L127.89,286.85 L128.96,284.67 L130.02,282.59 L131.09,280.60 L132.15,278.70 L133.22,276.89 L134.28,275.18 L135.35,273.55 L136.41,272.01 L137.48,270.55 L138.54,269.18 L139.61,267.88 L140.67,266.66 L141.74,265.52 L142.80,264.45 L143.87,263.44 L144.93,262.50 L145.99,261.61 L147.06,260.79 L148.12,260.02 L149.19,259.30" fill="none" stroke="#555" stroke-width="0.6" stroke-dasharray="5,3"/>
<path d="M124.69,398.52 L125.61,398.25 L126.53,397.96 L127.45,397.65 L128.36,397.30 L129.28,396.93 L130.20,396.53 L131.12,396.10 L132.04,395.63 L132.96,395.12 L133.88,394.57 L134.80,393.98 L135.71,393.34 L136.63,392.66 L137.55,391.92 L138.47,391.13 L139.39,390.29 L140.31,389.38 L141.23,388.41 L142.15,387.37 L143.06,386.27 L143.98,385.09 L144.90,383.84 L145.82,382.51 L146.74,381.11 L147.66,379.63 L148.58,378.07 L149.50,376.43 L150.41,374.71 L151.33,372.91 L152.25,371.04 L153.17,369.09 L154.09,367.07 L155.01,364.99 L155.93,362.84 L156.85,360.64 L157.76,358.39 L158.68,356.09 L159.60,353.76 L160.52,351.40 L161.44,349.02 L162.36,346.63 L163.28,344.24 L164.20,341.86 L165.11,339.49 L166.03,337.15 L166.95,334.84 L167.87,332.57 L168.79,330.35 L169.71,328.19 L170.63,326.08 L171.55,324.04 L172.46,322.06 L173.38,320.16 L174.30,318.34 L175.22,316.59 L176.14,314.93 L177.06,313.34 L177.98,311.83 L178.90,310.40 L179.81,309.05 L180.73,307.77 L181.65,306.57 L182.57,305.44 L183.49,304.38 L184.41,303.38 L185.33,302.45 L186.25,301.59 L187.16,300.78 L188.08,300.02 L189.00,299.32 L189.92,298.67 L190.84,298.06 L191.76,297.50 L192.68,296.98 L193.60,296.49 L194.51,296.05 L195.43,295.64 L196.35,295.25 L197.27,294.90 L198.19,294.58" fill="none" stroke="#333" stroke-width="0.6"/>
<path d="M124.69,401.51 L125.77,401.49 L126.85,401.47 L127.93,401.45 L129.00,401.42 L130.08,401.38 L131.16,401.34 L132.24,401.28 L133.32,401.22 L134.40,401.14 L135.48,401.05 L136.56,400.94 L137.64,400.81 L138.71,400.66 L139.79,400.47 L140.87,400.25 L141.95,399.98 L143.03,399.66 L144.11,399.29 L145.19,398.83 L146.27,398.30 L147.35,397.66 L148.42,396.91 L149.50,396.02 L150.58,394.98 L151.66,393.76 L152.74,392.33 L153.82,390.68 L154.90,388.77 L155.98,386.58 L157.06,384.09 L158.13,381.29 L159.21,378.16 L160.29,374.71 L161.37,370.95 L162.45,366.92 L163.53,362.64 L164.61,358.18 L165.69,353.60 L166.77,348.98 L167.84,344.39 L168.92,339.91 L170.00,335.60 L171.08,331.52 L172.16,327.72 L173.24,324.22 L174.32,321.04 L175.40,318.18 L176.48,315.64 L177.55,313.41 L178.63,311.45 L179.71,309.76 L180.79,308.29 L181.87,307.04 L182.95,305.97 L184.03,305.06 L185.11,304.29 L186.19,303.63 L187.26,303.08 L188.34,302.62 L189.42,302.23 L190.50,301.90 L191.58,301.63 L192.66,301.40 L193.74,301.21 L194.82,301.04 L195.90,300.91 L196.97,300.80 L198.05,300.70 L199.13,300.63 L200.21,300.56 L201.29,300.51 L202.37,300.46 L203.45,300.42 L204.53,300.39 L205.61,300.37 L206.68,300.34 L207.76,300.33 L208.84,300.31 L209.92,300.30 L211.00,300.29" fill="none" stroke="#333" stroke-width="0.6" stroke-dasharray="5,3"/>
<path d="M113.00,396.65 L114.06,396.49 L115.13,396.32 L116.19,396.13 L117.26,395.93 L118.32,395.71 L119.39,395.48 L120.45,395.23 L121.52,394.97 L122.58,394.68 L123.65,394.37 L124.71,394.05 L125.78,393.70 L126.84,393.33 L127.91,392.94 L128.97,392.53 L130.04,392.09 L131.10,391.63 L132.17,391.15 L133.23,390.65 L134.30,390.13 L135.36,389.58 L136.43,389.02 L137.49,388.44 L138.56,387.85 L139.62,387.24 L140.69,386.62 L141.75,385.98 L142.82,385.34 L143.88,384.70 L144.95,384.05 L146.01,383.41 L147.08,382.76 L148.14,382.12 L149.21,381.49 L150.27,380.87 L151.34,380.27 L152.40,379.67 L153.46,379.09 L154.53,378.53 L155.59,377.99 L156.66,377.47 L157.72,376.98 L158.79,376.50 L159.85,376.04 L160.92,375.61 L161.98,375.20 L163.05,374.81 L164.11,374.45 L165.18,374.10 L166.24,373.78 L167.31,373.47 L168.37,373.19 L169.44,372.93 L170.50,372.68 L171.57,372.45 L172.63,372.23 L173.70,372.04 L174.76,371.85 L175.83,371.68 L176.89,371.52 L177.96,371.38 L179.02,371.24 L180.09,371.12 L181.15,371.00 L182.22,370.90 L183.28,370.80 L184.35,370.71 L185.41,370.63 L186.48,370.55 L187.54,370.49 L188.61,370.42 L189.67,370.36 L190.74,370.31 L191.80,370.26 L192.87,370.22 L193.93,370.17 L194.99,370.14 L196.06,370.10 L197.12,370.07 L198.19,370.04" fill="none" stroke="#444" stroke-width="0.6" stroke-dasharray="5,3"/>
<circle cx="124.69" cy="398.47" r="2.5" fill="#fff" stroke="#111" stroke-width="0.9"/>
<circle cx="137.50" cy="389.06" r="2.5" fill="#fff" stroke="#111" stroke-width="0.9"/>
<circle cx="149.19" cy="370.56" r="2.5" fill="#fff" stroke="#111" stroke-width="0.9"/>
<circle cx="162.00" cy="347.36" r="2.5" fill="#fff" stroke="#111" stroke-width="0.9"/>
<circle cx="173.69" cy="319.05" r="2.5" fill="#fff" stroke="#111" stroke-width="0.9"/>
<circle cx="186.50" cy="295.01" r="2.5" fill="#fff" stroke="#111" stroke-width="0.9"/>
<circle cx="198.19" cy="295.01" r="2.5" fill="#fff" stroke="#111" stroke-width="0.9"/>
<polygon points="121.99,400.02 127.39,400.02 124.69,395.35" fill="#000" stroke="#000" stroke-width="0.6" stroke-linejoin="miter"/>
<polygon points="134.80,396.89 140.20,396.89 137.50,392.21" fill="#000" stroke="#000" stroke-width="0.6" stroke-linejoin="miter"/>
<polygon points="146.49,391.66 151.89,391.66 149.19,386.99" fill="#000" stroke="#000" stroke-width="0.6" stroke-linejoin="miter"/>
<polygon points="159.30,370.14 164.70,370.14 162.00,365.46" fill="#000" stroke="#000" stroke-width="0.6" stroke-linejoin="miter"/>
<polygon points="170.99,327.08 176.39,327.08 173.69,322.41" fill="#000" stroke="#000" stroke-width="0.6" stroke-linejoin="miter"/>
<polygon points="183.80,314.75 189.20,314.75 186.50,310.08" fill="#000" stroke="#000" stroke-width="0.6" stroke-linejoin="miter"/>
<polygon points="195.49,293.43 200.89,293.43 198.19,288.76" fill="#000" stroke="#000" stroke-width="0.6" stroke-linejoin="miter"/>
<polygon points="208.30,305.97 213.70,305.97 211.00,301.30" fill="#000" stroke="#000" stroke-width="0.6" stroke-linejoin="miter"/>
<rect x="110.70" y="394.28" width="4.60" height="4.60" fill="#b0b0b0" stroke="#555" stroke-width="0.9"/>
<rect x="122.39" y="388.85" width="4.60" height="4.60" fill="#b0b0b0" stroke="#555" stroke-width="0.9"/>
<rect x="135.20" y="383.10" width="4.60" height="4.60" fill="#b0b0b0" stroke="#555" stroke-width="0.9"/>
<rect x="146.89" y="383.94" width="4.60" height="4.60" fill="#b0b0b0" stroke="#555" stroke-width="0.9"/>
<rect x="159.70" y="378.92" width="4.60" height="4.60" fill="#b0b0b0" stroke="#555" stroke-width="0.9"/>
<rect x="171.39" y="372.44" width="4.60" height="4.60" fill="#b0b0b0" stroke="#555" stroke-width="0.9"/>
<rect x="184.20" y="368.26" width="4.60" height="4.60" fill="#b0b0b0" stroke="#555" stroke-width="0.9"/>
<rect x="195.89" y="368.26" width="4.60" height="4.60" fill="#b0b0b0" stroke="#555" stroke-width="0.9"/>
<rect x="208.70" y="381.54" width="4.60" height="4.60" fill="#b0b0b0" stroke="#555" stroke-width="0.9"/>
<polygon points="64.00,392.23 67.10,395.33 64.00,398.43 60.90,395.33" fill="#7a7a7a" stroke="#222" stroke-width="0.9"/>
<polygon points="75.69,388.05 78.79,391.15 75.69,394.25 72.59,391.15" fill="#7a7a7a" stroke="#222" stroke-width="0.9"/>
<polygon points="88.50,379.69 91.60,382.79 88.50,385.89 85.40,382.79" fill="#7a7a7a" stroke="#222" stroke-width="0.9"/>
<polygon points="100.19,352.52 103.29,355.62 100.19,358.72 97.09,355.62" fill="#7a7a7a" stroke="#222" stroke-width="0.9"/>
<polygon points="113.00,324.31 116.10,327.41 113.00,330.51 109.90,327.41" fill="#7a7a7a" stroke="#222" stroke-width="0.9"/>
<polygon points="124.69,299.23 127.79,302.33 124.69,305.43 121.59,302.33" fill="#7a7a7a" stroke="#222" stroke-width="0.9"/>
<polygon points="137.50,252.20 140.60,255.30 137.50,258.40 134.40,255.30" fill="#7a7a7a" stroke="#222" stroke-width="0.9"/>
<polygon points="149.19,259.51 152.29,262.62 149.19,265.72 146.09,262.62" fill="#7a7a7a" stroke="#222" stroke-width="0.9"/>
<circle cx="124.69" cy="398.47" r="2.6" fill="#000" stroke="#111" stroke-width="0.6"/>
<line x1="283.50" y1="241.20" x2="455.50" y2="241.20" stroke="#444" stroke-width="1.0" />
<line x1="283.50" y1="241.20" x2="283.50" y2="413.20" stroke="#444" stroke-width="1.0" />
<line x1="283.50" y1="413.20" x2="455.50" y2="413.20" stroke="#444" stroke-width="1.0" />
<line x1="455.50" y1="241.20" x2="455.50" y2="413.20" stroke="#444" stroke-width="1.0" />
<line x1="283.50" y1="403.30" x2="286.00" y2="403.30" stroke="#bbb" stroke-width="0.6" />
<line x1="455.50" y1="403.30" x2="453.00" y2="403.30" stroke="#bbb" stroke-width="0.6" />
<text x="279.30" y="406.20" font-size="8" text-anchor="end" font-weight="bold" fill="#111" >0</text>
<line x1="283.50" y1="383.05" x2="286.00" y2="383.05" stroke="#bbb" stroke-width="0.6" />
<line x1="455.50" y1="383.05" x2="453.00" y2="383.05" stroke="#bbb" stroke-width="0.6" />
<text x="279.30" y="385.95" font-size="8" text-anchor="end" font-weight="bold" fill="#111" >20</text>
<line x1="283.50" y1="362.80" x2="286.00" y2="362.80" stroke="#bbb" stroke-width="0.6" />
<line x1="455.50" y1="362.80" x2="453.00" y2="362.80" stroke="#bbb" stroke-width="0.6" />
<text x="279.30" y="365.70" font-size="8" text-anchor="end" font-weight="bold" fill="#111" >40</text>
<line x1="283.50" y1="342.55" x2="286.00" y2="342.55" stroke="#bbb" stroke-width="0.6" />
<line x1="455.50" y1="342.55" x2="453.00" y2="342.55" stroke="#bbb" stroke-width="0.6" />
<text x="279.30" y="345.45" font-size="8" text-anchor="end" font-weight="bold" fill="#111" >60</text>
<line x1="283.50" y1="322.30" x2="286.00" y2="322.30" stroke="#bbb" stroke-width="0.6" />
<line x1="455.50" y1="322.30" x2="453.00" y2="322.30" stroke="#bbb" stroke-width="0.6" />
<text x="279.30" y="325.20" font-size="8" text-anchor="end" font-weight="bold" fill="#111" >80</text>
<line x1="283.50" y1="302.05" x2="286.00" y2="302.05" stroke="#bbb" stroke-width="0.6" />
<line x1="455.50" y1="302.05" x2="453.00" y2="302.05" stroke="#bbb" stroke-width="0.6" />
<text x="279.30" y="304.95" font-size="8" text-anchor="end" font-weight="bold" fill="#111" >100</text>
<line x1="283.50" y1="281.80" x2="286.00" y2="281.80" stroke="#bbb" stroke-width="0.6" />
<line x1="455.50" y1="281.80" x2="453.00" y2="281.80" stroke="#bbb" stroke-width="0.6" />
<text x="279.30" y="284.70" font-size="8" text-anchor="end" font-weight="bold" fill="#111" >120</text>
<line x1="283.50" y1="261.55" x2="286.00" y2="261.55" stroke="#bbb" stroke-width="0.6" />
<line x1="455.50" y1="261.55" x2="453.00" y2="261.55" stroke="#bbb" stroke-width="0.6" />
<text x="279.30" y="264.45" font-size="8" text-anchor="end" font-weight="bold" fill="#111" >140</text>
<line x1="283.50" y1="241.30" x2="286.00" y2="241.30" stroke="#bbb" stroke-width="0.6" />
<line x1="455.50" y1="241.30" x2="453.00" y2="241.30" stroke="#bbb" stroke-width="0.6" />
<text x="279.30" y="244.20" font-size="8" text-anchor="end" font-weight="bold" fill="#111" >160</text>
<line x1="296.00" y1="413.20" x2="296.00" y2="410.70" stroke="#bbb" stroke-width="0.6" />
<line x1="296.00" y1="241.20" x2="296.00" y2="243.70" stroke="#bbb" stroke-width="0.6" />
<text x="296.00" y="424.80" font-size="8" text-anchor="middle" font-weight="bold" fill="#111" >0.0001</text>
<line x1="320.60" y1="413.20" x2="320.60" y2="410.70" stroke="#bbb" stroke-width="0.6" />
<line x1="320.60" y1="241.20" x2="320.60" y2="243.70" stroke="#bbb" stroke-width="0.6" />
<text x="320.60" y="424.80" font-size="8" text-anchor="middle" font-weight="bold" fill="#111" >0.001</text>
<line x1="345.20" y1="413.20" x2="345.20" y2="410.70" stroke="#bbb" stroke-width="0.6" />
<line x1="345.20" y1="241.20" x2="345.20" y2="243.70" stroke="#bbb" stroke-width="0.6" />
<text x="345.20" y="424.80" font-size="8" text-anchor="middle" font-weight="bold" fill="#111" >0.01</text>
<line x1="369.80" y1="413.20" x2="369.80" y2="410.70" stroke="#bbb" stroke-width="0.6" />
<line x1="369.80" y1="241.20" x2="369.80" y2="243.70" stroke="#bbb" stroke-width="0.6" />
<text x="369.80" y="424.80" font-size="8" text-anchor="middle" font-weight="bold" fill="#111" >0.1</text>
<line x1="394.40" y1="413.20" x2="394.40" y2="410.70" stroke="#bbb" stroke-width="0.6" />
<line x1="394.40" y1="241.20" x2="394.40" y2="243.70" stroke="#bbb" stroke-width="0.6" />
<text x="394.40" y="424.80" font-size="8" text-anchor="middle" font-weight="bold" fill="#111" >1</text>
<line x1="419.00" y1="413.20" x2="419.00" y2="410.70" stroke="#bbb" stroke-width="0.6" />
<line x1="419.00" y1="241.20" x2="419.00" y2="243.70" stroke="#bbb" stroke-width="0.6" />
<text x="419.00" y="424.80" font-size="8" text-anchor="middle" font-weight="bold" fill="#111" >10</text>
<line x1="443.60" y1="413.20" x2="443.60" y2="410.70" stroke="#bbb" stroke-width="0.6" />
<line x1="443.60" y1="241.20" x2="443.60" y2="243.70" stroke="#bbb" stroke-width="0.6" />
<text x="443.60" y="424.80" font-size="8" text-anchor="middle" font-weight="bold" fill="#111" >100</text>
<text x="369.90" y="442.00" font-size="9" text-anchor="middle" font-weight="normal" fill="#1a1a1a"  class="n">[Agonist] (&#956;M)</text>
<text x="250.80" y="339.60" font-size="9.1" text-anchor="middle" font-weight="normal" fill="#1a1a1a" transform="rotate(-90 250.80 339.60)"  class="n">&#945;CtxMII-sensitive Dopamine Release</text>
<text x="260.70" y="340.10" font-size="9.1" text-anchor="middle" font-weight="normal" fill="#1a1a1a" transform="rotate(-90 260.70 340.10)"  class="n">as % max release by ACh</text>
<text x="426.80" y="262.70" font-size="19" text-anchor="middle" font-weight="bold" fill="#000" >D</text>
<text x="0" y="0" font-size="9" text-anchor="start" font-weight="normal" fill="#1a1a1a" transform="translate(398.60 369.00) scale(0.94 1)"  class="n">ACh</text>
<text x="0" y="0" font-size="9" text-anchor="start" font-weight="normal" fill="#1a1a1a" transform="translate(398.60 379.30) scale(0.94 1)"  class="n">NIC</text>
<text x="0" y="0" font-size="9" text-anchor="start" font-weight="normal" fill="#1a1a1a" transform="translate(398.60 389.30) scale(0.94 1)"  class="n">EPI</text>
<text x="0" y="0" font-size="9" text-anchor="start" font-weight="normal" fill="#1a1a1a" transform="translate(398.60 399.10) scale(0.94 1)"  class="n">CYT</text>
<path d="M296.00,379.63 L296.92,378.35 L297.85,376.99 L298.77,375.55 L299.69,374.04 L300.61,372.44 L301.54,370.77 L302.46,369.02 L303.38,367.19 L304.30,365.27 L305.23,363.28 L306.15,361.21 L307.07,359.06 L307.99,356.84 L308.92,354.55 L309.84,352.19 L310.76,349.77 L311.68,347.29 L312.61,344.76 L313.53,342.19 L314.45,339.57 L315.37,336.93 L316.30,334.26 L317.22,331.57 L318.14,328.88 L319.06,326.19 L319.99,323.50 L320.91,320.83 L321.83,318.19 L322.75,315.57 L323.68,313.00 L324.60,310.47 L325.52,307.99 L326.44,305.57 L327.37,303.21 L328.29,300.92 L329.21,298.70 L330.13,296.55 L331.06,294.48 L331.98,292.49 L332.90,290.58 L333.82,288.74 L334.75,286.99 L335.67,285.32 L336.59,283.73 L337.51,282.21 L338.44,280.78 L339.36,279.42 L340.28,278.13 L341.20,276.91 L342.12,275.76 L343.05,274.68 L343.97,273.66 L344.89,272.71 L345.81,271.81 L346.74,270.97 L347.66,270.18 L348.58,269.44 L349.50,268.75 L350.43,268.10 L351.35,267.49 L352.27,266.93 L353.19,266.40 L354.12,265.91 L355.04,265.46 L355.96,265.03 L356.88,264.63 L357.81,264.26 L358.73,263.92 L359.65,263.60 L360.57,263.31 L361.50,263.03 L362.42,262.77 L363.34,262.54 L364.26,262.32 L365.19,262.11 L366.11,261.92 L367.03,261.75 L367.95,261.58 L368.88,261.43 L369.80,261.29" fill="none" stroke="#555" stroke-width="0.6" stroke-dasharray="5,3"/>
<path d="M332.34,393.26 L333.57,392.45 L334.80,391.58 L336.03,390.65 L337.26,389.65 L338.49,388.60 L339.72,387.47 L340.95,386.27 L342.18,385.00 L343.41,383.66 L344.64,382.24 L345.87,380.75 L347.10,379.18 L348.33,377.54 L349.56,375.82 L350.79,374.03 L352.02,372.18 L353.25,370.25 L354.48,368.26 L355.71,366.21 L356.94,364.11 L358.17,361.97 L359.40,359.78 L360.63,357.56 L361.86,355.31 L363.09,353.05 L364.32,350.78 L365.55,348.51 L366.78,346.25 L368.01,344.00 L369.24,341.77 L370.47,339.58 L371.70,337.43 L372.93,335.33 L374.16,333.27 L375.39,331.28 L376.62,329.34 L377.85,327.48 L379.08,325.68 L380.31,323.95 L381.54,322.30 L382.77,320.73 L384.00,319.22 L385.23,317.80 L386.46,316.45 L387.69,315.17 L388.92,313.97 L390.15,312.83 L391.38,311.76 L392.61,310.76 L393.84,309.83 L395.07,308.95 L396.30,308.13 L397.53,307.37 L398.76,306.66 L399.99,305.99 L401.22,305.38 L402.45,304.81 L403.68,304.28 L404.91,303.79 L406.14,303.33 L407.37,302.91 L408.60,302.52 L409.83,302.16 L411.06,301.83 L412.29,301.53 L413.52,301.24 L414.75,300.98 L415.98,300.74 L417.21,300.52 L418.44,300.32 L419.67,300.13 L420.90,299.96 L422.13,299.80 L423.36,299.65 L424.59,299.52 L425.82,299.39 L427.05,299.28 L428.28,299.17 L429.51,299.08 L430.74,298.99" fill="none" stroke="#444" stroke-width="0.6" stroke-dasharray="5,3"/>
<path d="M345.20,393.45 L346.27,392.71 L347.34,391.92 L348.41,391.08 L349.48,390.18 L350.55,389.23 L351.62,388.22 L352.68,387.15 L353.75,386.02 L354.82,384.83 L355.89,383.57 L356.96,382.24 L358.03,380.85 L359.10,379.39 L360.17,377.87 L361.24,376.28 L362.31,374.62 L363.38,372.90 L364.45,371.12 L365.52,369.28 L366.58,367.38 L367.65,365.44 L368.72,363.44 L369.79,361.40 L370.86,359.33 L371.93,357.22 L373.00,355.09 L374.07,352.94 L375.14,350.78 L376.21,348.61 L377.28,346.44 L378.35,344.29 L379.41,342.14 L380.48,340.02 L381.55,337.93 L382.62,335.87 L383.69,333.86 L384.76,331.88 L385.83,329.96 L386.90,328.09 L387.97,326.28 L389.04,324.53 L390.11,322.84 L391.18,321.21 L392.25,319.65 L393.31,318.16 L394.38,316.73 L395.45,315.37 L396.52,314.08 L397.59,312.85 L398.66,311.69 L399.73,310.59 L400.80,309.55 L401.87,308.57 L402.94,307.64 L404.01,306.77 L405.08,305.96 L406.15,305.19 L407.21,304.47 L408.28,303.80 L409.35,303.17 L410.42,302.58 L411.49,302.04 L412.56,301.52 L413.63,301.05 L414.70,300.60 L415.77,300.19 L416.84,299.81 L417.91,299.45 L418.98,299.12 L420.05,298.81 L421.11,298.52 L422.18,298.26 L423.25,298.01 L424.32,297.78 L425.39,297.57 L426.46,297.37 L427.53,297.19 L428.60,297.02 L429.67,296.87 L430.74,296.72" fill="none" stroke="#333" stroke-width="0.6"/>
<path d="M356.94,391.79 L357.86,391.06 L358.78,390.28 L359.70,389.47 L360.63,388.61 L361.55,387.71 L362.47,386.76 L363.39,385.76 L364.32,384.71 L365.24,383.62 L366.16,382.47 L367.08,381.28 L368.01,380.03 L368.93,378.74 L369.85,377.39 L370.77,375.99 L371.70,374.54 L372.62,373.04 L373.54,371.50 L374.46,369.91 L375.39,368.27 L376.31,366.59 L377.23,364.87 L378.15,363.11 L379.08,361.32 L380.00,359.50 L380.92,357.65 L381.84,355.78 L382.77,353.89 L383.69,351.98 L384.61,350.07 L385.53,348.14 L386.46,346.22 L387.38,344.30 L388.30,342.39 L389.22,340.49 L390.15,338.61 L391.07,336.75 L391.99,334.91 L392.91,333.10 L393.84,331.32 L394.76,329.58 L395.68,327.88 L396.60,326.22 L397.53,324.60 L398.45,323.03 L399.37,321.51 L400.29,320.03 L401.22,318.60 L402.14,317.23 L403.06,315.90 L403.98,314.63 L404.91,313.41 L405.83,312.23 L406.75,311.11 L407.67,310.04 L408.60,309.02 L409.52,308.04 L410.44,307.11 L411.36,306.23 L412.29,305.39 L413.21,304.59 L414.13,303.84 L415.05,303.12 L415.98,302.44 L416.90,301.80 L417.82,301.20 L418.74,300.63 L419.67,300.09 L420.59,299.58 L421.51,299.11 L422.43,298.66 L423.36,298.23 L424.28,297.83 L425.20,297.46 L426.12,297.11 L427.05,296.78 L427.97,296.46 L428.89,296.17 L429.81,295.90 L430.74,295.64" fill="none" stroke="#333" stroke-width="0.6" stroke-dasharray="5,3"/>
<circle cx="345.20" cy="393.58" r="2.5" fill="#fff" stroke="#111" stroke-width="0.9"/>
<circle cx="356.94" cy="382.34" r="2.5" fill="#fff" stroke="#111" stroke-width="0.9"/>
<circle cx="369.80" cy="360.78" r="2.5" fill="#fff" stroke="#111" stroke-width="0.9"/>
<circle cx="381.54" cy="337.08" r="2.5" fill="#fff" stroke="#111" stroke-width="0.9"/>
<circle cx="394.40" cy="317.54" r="2.5" fill="#fff" stroke="#111" stroke-width="0.9"/>
<circle cx="406.14" cy="304.38" r="2.5" fill="#fff" stroke="#111" stroke-width="0.9"/>
<circle cx="419.00" cy="304.08" r="2.5" fill="#fff" stroke="#111" stroke-width="0.9"/>
<circle cx="430.74" cy="301.34" r="2.5" fill="#fff" stroke="#111" stroke-width="0.9"/>
<polygon points="354.24,383.90 359.64,383.90 356.94,379.22" fill="#000" stroke="#000" stroke-width="0.6" stroke-linejoin="miter"/>
<polygon points="367.10,374.48 372.50,374.48 369.80,369.81" fill="#000" stroke="#000" stroke-width="0.6" stroke-linejoin="miter"/>
<polygon points="378.84,374.48 384.24,374.48 381.54,369.81" fill="#000" stroke="#000" stroke-width="0.6" stroke-linejoin="miter"/>
<polygon points="391.70,318.80 397.10,318.80 394.40,314.12" fill="#000" stroke="#000" stroke-width="0.6" stroke-linejoin="miter"/>
<polygon points="403.44,336.01 408.84,336.01 406.14,331.33" fill="#000" stroke="#000" stroke-width="0.6" stroke-linejoin="miter"/>
<polygon points="416.30,290.45 421.70,290.45 419.00,285.77" fill="#000" stroke="#000" stroke-width="0.6" stroke-linejoin="miter"/>
<polygon points="428.04,290.45 433.44,290.45 430.74,285.77" fill="#000" stroke="#000" stroke-width="0.6" stroke-linejoin="miter"/>
<rect x="330.04" y="394.93" width="4.60" height="4.60" fill="#b0b0b0" stroke="#555" stroke-width="0.9"/>
<rect x="342.90" y="382.77" width="4.60" height="4.60" fill="#b0b0b0" stroke="#555" stroke-width="0.9"/>
<rect x="354.64" y="346.53" width="4.60" height="4.60" fill="#b0b0b0" stroke="#555" stroke-width="0.9"/>
<rect x="367.50" y="349.36" width="4.60" height="4.60" fill="#b0b0b0" stroke="#555" stroke-width="0.9"/>
<rect x="379.24" y="320.00" width="4.60" height="4.60" fill="#b0b0b0" stroke="#555" stroke-width="0.9"/>
<rect x="392.10" y="290.03" width="4.60" height="4.60" fill="#b0b0b0" stroke="#555" stroke-width="0.9"/>
<rect x="403.84" y="317.06" width="4.60" height="4.60" fill="#b0b0b0" stroke="#555" stroke-width="0.9"/>
<polygon points="296.00,379.24 299.10,382.34 296.00,385.44 292.90,382.34" fill="#7a7a7a" stroke="#222" stroke-width="0.9"/>
<polygon points="307.74,355.55 310.84,358.65 307.74,361.75 304.64,358.65" fill="#7a7a7a" stroke="#222" stroke-width="0.9"/>
<polygon points="320.60,311.10 323.70,314.20 320.60,317.30 317.50,314.20" fill="#7a7a7a" stroke="#222" stroke-width="0.9"/>
<polygon points="332.34,312.21 335.44,315.31 332.34,318.41 329.24,315.31" fill="#7a7a7a" stroke="#222" stroke-width="0.9"/>
<polygon points="345.20,260.48 348.30,263.58 345.20,266.68 342.10,263.58" fill="#7a7a7a" stroke="#222" stroke-width="0.9"/>
<polygon points="356.94,248.93 360.04,252.03 356.94,255.13 353.84,252.03" fill="#7a7a7a" stroke="#222" stroke-width="0.9"/>
<polygon points="369.80,273.64 372.90,276.74 369.80,279.84 366.70,276.74" fill="#7a7a7a" stroke="#222" stroke-width="0.9"/>
<circle cx="356.94" cy="382.34" r="2.6" fill="#000" stroke="#111" stroke-width="0.6"/>
<circle cx="394.40" cy="317.34" r="2.6" fill="#000" stroke="#111" stroke-width="0.6"/>
<line x1="53.80" y1="473.40" x2="226.30" y2="473.40" stroke="#aaa" stroke-width="0.9" />
<line x1="53.80" y1="473.40" x2="53.80" y2="646.10" stroke="#aaa" stroke-width="0.9" />
<line x1="53.80" y1="646.10" x2="226.30" y2="646.10" stroke="#aaa" stroke-width="0.9" />
<line x1="226.30" y1="473.40" x2="226.30" y2="646.10" stroke="#aaa" stroke-width="0.9" />
<line x1="53.80" y1="632.60" x2="56.30" y2="632.60" stroke="#ccc" stroke-width="0.6" />
<line x1="226.30" y1="632.60" x2="223.80" y2="632.60" stroke="#ccc" stroke-width="0.6" />
<text x="49.00" y="635.50" font-size="9.5" text-anchor="end" font-weight="bold" fill="#111" >0</text>
<line x1="53.80" y1="606.10" x2="56.30" y2="606.10" stroke="#ccc" stroke-width="0.6" />
<line x1="226.30" y1="606.10" x2="223.80" y2="606.10" stroke="#ccc" stroke-width="0.6" />
<text x="49.00" y="609.00" font-size="9.5" text-anchor="end" font-weight="bold" fill="#111" >20</text>
<line x1="53.80" y1="579.60" x2="56.30" y2="579.60" stroke="#ccc" stroke-width="0.6" />
<line x1="226.30" y1="579.60" x2="223.80" y2="579.60" stroke="#ccc" stroke-width="0.6" />
<text x="49.00" y="582.50" font-size="9.5" text-anchor="end" font-weight="bold" fill="#111" >40</text>
<line x1="53.80" y1="553.10" x2="56.30" y2="553.10" stroke="#ccc" stroke-width="0.6" />
<line x1="226.30" y1="553.10" x2="223.80" y2="553.10" stroke="#ccc" stroke-width="0.6" />
<text x="49.00" y="556.00" font-size="9.5" text-anchor="end" font-weight="bold" fill="#111" >60</text>
<line x1="53.80" y1="526.60" x2="56.30" y2="526.60" stroke="#ccc" stroke-width="0.6" />
<line x1="226.30" y1="526.60" x2="223.80" y2="526.60" stroke="#ccc" stroke-width="0.6" />
<text x="49.00" y="529.50" font-size="9.5" text-anchor="end" font-weight="bold" fill="#111" >80</text>
<line x1="53.80" y1="500.10" x2="56.30" y2="500.10" stroke="#ccc" stroke-width="0.6" />
<line x1="226.30" y1="500.10" x2="223.80" y2="500.10" stroke="#ccc" stroke-width="0.6" />
<text x="49.00" y="503.00" font-size="9.5" text-anchor="end" font-weight="bold" fill="#111" >100</text>
<line x1="53.80" y1="473.60" x2="56.30" y2="473.60" stroke="#ccc" stroke-width="0.6" />
<line x1="226.30" y1="473.60" x2="223.80" y2="473.60" stroke="#ccc" stroke-width="0.6" />
<text x="49.00" y="476.50" font-size="9.5" text-anchor="end" font-weight="bold" fill="#111" >120</text>
<line x1="53.60" y1="646.10" x2="53.60" y2="643.60" stroke="#ccc" stroke-width="0.6" />
<line x1="53.60" y1="473.40" x2="53.60" y2="475.90" stroke="#ccc" stroke-width="0.6" />
<text x="53.60" y="660.30" font-size="9.5" text-anchor="middle" font-weight="bold" fill="#111" >0.001</text>
<line x1="82.70" y1="646.10" x2="82.70" y2="643.60" stroke="#ccc" stroke-width="0.6" />
<line x1="82.70" y1="473.40" x2="82.70" y2="475.90" stroke="#ccc" stroke-width="0.6" />
<text x="82.70" y="660.30" font-size="9.5" text-anchor="middle" font-weight="bold" fill="#111" >0.01</text>
<line x1="111.80" y1="646.10" x2="111.80" y2="643.60" stroke="#ccc" stroke-width="0.6" />
<line x1="111.80" y1="473.40" x2="111.80" y2="475.90" stroke="#ccc" stroke-width="0.6" />
<text x="111.80" y="660.30" font-size="9.5" text-anchor="middle" font-weight="bold" fill="#111" >0.1</text>
<line x1="140.90" y1="646.10" x2="140.90" y2="643.60" stroke="#ccc" stroke-width="0.6" />
<line x1="140.90" y1="473.40" x2="140.90" y2="475.90" stroke="#ccc" stroke-width="0.6" />
<text x="140.90" y="660.30" font-size="9.5" text-anchor="middle" font-weight="bold" fill="#111" >1</text>
<line x1="170.00" y1="646.10" x2="170.00" y2="643.60" stroke="#ccc" stroke-width="0.6" />
<line x1="170.00" y1="473.40" x2="170.00" y2="475.90" stroke="#ccc" stroke-width="0.6" />
<text x="170.00" y="660.30" font-size="9.5" text-anchor="middle" font-weight="bold" fill="#111" >10</text>
<line x1="199.10" y1="646.10" x2="199.10" y2="643.60" stroke="#ccc" stroke-width="0.6" />
<line x1="199.10" y1="473.40" x2="199.10" y2="475.90" stroke="#ccc" stroke-width="0.6" />
<text x="199.10" y="660.30" font-size="9.5" text-anchor="middle" font-weight="bold" fill="#111" >100</text>
<text x="140.00" y="678.60" font-size="9.6" text-anchor="middle" font-weight="normal" fill="#1a1a1a"  class="n">[MLA] ( &#956;M)</text>
<text x="20.50" y="568.90" font-size="9.7" text-anchor="middle" font-weight="normal" fill="#1a1a1a" transform="rotate(-90 20.50 568.90)"  class="n">% Control Dopamine Release</text>
<text x="31.90" y="569.30" font-size="9.5" text-anchor="middle" font-weight="normal" fill="#1a1a1a" transform="rotate(-90 31.90 569.30)"  class="n">Evoked by Nicotine (3&#956;M)</text>
<text x="200.00" y="552.80" font-size="19" text-anchor="middle" font-weight="bold" fill="#000" >E</text>
<circle cx="167.70" cy="483.20" r="3.3" fill="#000" stroke="none" stroke-width="0.8"/>
<polygon points="168.10,502.50 171.70,506.10 168.10,509.70 164.50,506.10" fill="#c0c0c0" stroke="#222" stroke-width="0.9"/>
<text x="184.30" y="486.90" font-size="8.3" text-anchor="start" font-weight="normal" fill="#1a1a1a"  class="n">&#945;CtxMII-</text>
<text x="184.30" y="496.10" font-size="8.3" text-anchor="start" font-weight="normal" fill="#1a1a1a"  class="n">resistant</text>
<text x="184.30" y="510.00" font-size="8.3" text-anchor="start" font-weight="normal" fill="#1a1a1a"  class="n">&#945;CtxMII-</text>
<text x="184.30" y="518.40" font-size="8.3" text-anchor="start" font-weight="normal" fill="#1a1a1a"  class="n">sensitive</text>
<path d="M67.48,499.96 L68.40,500.15 L69.32,500.34 L70.24,500.56 L71.16,500.79 L72.07,501.03 L72.99,501.29 L73.91,501.57 L74.83,501.87 L75.74,502.20 L76.66,502.54 L77.58,502.91 L78.50,503.30 L79.41,503.72 L80.33,504.17 L81.25,504.65 L82.17,505.16 L83.09,505.70 L84.00,506.29 L84.92,506.90 L85.84,507.56 L86.76,508.26 L87.67,509.01 L88.59,509.80 L89.51,510.64 L90.43,511.53 L91.34,512.47 L92.26,513.47 L93.18,514.52 L94.10,515.64 L95.02,516.81 L95.93,518.04 L96.85,519.34 L97.77,520.71 L98.69,522.14 L99.60,523.64 L100.52,525.21 L101.44,526.84 L102.36,528.55 L103.27,530.32 L104.19,532.16 L105.11,534.07 L106.03,536.04 L106.95,538.07 L107.86,540.16 L108.78,542.31 L109.70,544.51 L110.62,546.76 L111.53,549.06 L112.45,551.40 L113.37,553.77 L114.29,556.16 L115.20,558.59 L116.12,561.03 L117.04,563.47 L117.96,565.93 L118.88,568.38 L119.79,570.82 L120.71,573.25 L121.63,575.65 L122.55,578.03 L123.46,580.38 L124.38,582.68 L125.30,584.95 L126.22,587.16 L127.13,589.32 L128.05,591.43 L128.97,593.48 L129.89,595.47 L130.81,597.39 L131.72,599.25 L132.64,601.04 L133.56,602.76 L134.48,604.42 L135.39,606.00 L136.31,607.52 L137.23,608.97 L138.15,610.35 L139.06,611.67 L139.98,612.92 L140.90,614.11" fill="none" stroke="#555" stroke-width="0.6" stroke-dasharray="8,3"/>
<path d="M111.80,495.32 L113.06,495.45 L114.33,495.61 L115.59,495.77 L116.86,495.96 L118.12,496.17 L119.39,496.40 L120.65,496.66 L121.92,496.95 L123.18,497.27 L124.45,497.63 L125.71,498.02 L126.98,498.46 L128.24,498.94 L129.51,499.48 L130.77,500.08 L132.04,500.73 L133.30,501.46 L134.57,502.26 L135.83,503.14 L137.10,504.11 L138.36,505.18 L139.63,506.35 L140.89,507.63 L142.16,509.03 L143.42,510.55 L144.68,512.21 L145.95,514.00 L147.21,515.95 L148.48,518.04 L149.74,520.28 L151.01,522.69 L152.27,525.25 L153.54,527.97 L154.80,530.84 L156.07,533.86 L157.33,537.02 L158.60,540.32 L159.86,543.73 L161.13,547.24 L162.39,550.84 L163.66,554.51 L164.92,558.22 L166.19,561.95 L167.45,565.69 L168.72,569.40 L169.98,573.07 L171.25,576.67 L172.51,580.19 L173.78,583.61 L175.04,586.91 L176.30,590.08 L177.57,593.11 L178.83,595.99 L180.10,598.71 L181.36,601.28 L182.63,603.69 L183.89,605.95 L185.16,608.04 L186.42,609.99 L187.69,611.80 L188.95,613.46 L190.22,614.99 L191.48,616.39 L192.75,617.68 L194.01,618.85 L195.28,619.92 L196.54,620.90 L197.81,621.79 L199.07,622.59 L200.34,623.32 L201.60,623.98 L202.87,624.58 L204.13,625.12 L205.40,625.61 L206.66,626.05 L207.93,626.44 L209.19,626.80 L210.45,627.12 L211.72,627.41 L212.98,627.67" fill="none" stroke="#444" stroke-width="0.7"/>
<polygon points="67.48,504.05 71.08,507.65 67.48,511.25 63.88,507.65" fill="#c0c0c0" stroke="#222" stroke-width="0.9"/>
<polygon points="82.70,485.24 86.30,488.84 82.70,492.44 79.10,488.84" fill="#c0c0c0" stroke="#222" stroke-width="0.9"/>
<polygon points="96.58,527.64 100.18,531.24 96.58,534.84 92.98,531.24" fill="#c0c0c0" stroke="#222" stroke-width="0.9"/>
<polygon points="111.80,543.94 115.40,547.54 111.80,551.14 108.20,547.54" fill="#c0c0c0" stroke="#222" stroke-width="0.9"/>
<polygon points="125.68,581.30 129.28,584.90 125.68,588.50 122.08,584.90" fill="#c0c0c0" stroke="#222" stroke-width="0.9"/>
<polygon points="140.90,625.16 144.50,628.76 140.90,632.36 137.30,628.76" fill="#c0c0c0" stroke="#222" stroke-width="0.9"/>
<circle cx="111.80" cy="488.84" r="3.3" fill="#000" stroke="none" stroke-width="0.8"/>
<circle cx="125.68" cy="493.48" r="3.3" fill="#000" stroke="none" stroke-width="0.8"/>
<circle cx="140.90" cy="523.42" r="3.3" fill="#000" stroke="none" stroke-width="0.8"/>
<circle cx="154.78" cy="529.12" r="3.3" fill="#000" stroke="none" stroke-width="0.8"/>
<circle cx="170.00" cy="571.65" r="3.3" fill="#000" stroke="none" stroke-width="0.8"/>
<circle cx="183.88" cy="598.15" r="3.3" fill="#000" stroke="none" stroke-width="0.8"/>
<circle cx="199.10" cy="619.35" r="3.3" fill="#000" stroke="none" stroke-width="0.8"/>
<circle cx="212.98" cy="627.30" r="3.3" fill="#000" stroke="none" stroke-width="0.8"/>
<line x1="285.50" y1="471.10" x2="456.30" y2="471.10" stroke="#aaa" stroke-width="0.9" />
<line x1="285.50" y1="471.10" x2="285.50" y2="642.00" stroke="#aaa" stroke-width="0.9" />
<line x1="285.50" y1="642.00" x2="456.30" y2="642.00" stroke="#aaa" stroke-width="0.9" />
<line x1="456.30" y1="471.10" x2="456.30" y2="642.00" stroke="#aaa" stroke-width="0.9" />
<line x1="285.50" y1="629.60" x2="288.00" y2="629.60" stroke="#ccc" stroke-width="0.6" />
<line x1="456.30" y1="629.60" x2="453.80" y2="629.60" stroke="#ccc" stroke-width="0.6" />
<text x="280.60" y="632.50" font-size="9.5" text-anchor="end" font-weight="bold" fill="#111" >0</text>
<line x1="285.50" y1="603.25" x2="288.00" y2="603.25" stroke="#ccc" stroke-width="0.6" />
<line x1="456.30" y1="603.25" x2="453.80" y2="603.25" stroke="#ccc" stroke-width="0.6" />
<text x="280.60" y="606.15" font-size="9.5" text-anchor="end" font-weight="bold" fill="#111" >20</text>
<line x1="285.50" y1="576.90" x2="288.00" y2="576.90" stroke="#ccc" stroke-width="0.6" />
<line x1="456.30" y1="576.90" x2="453.80" y2="576.90" stroke="#ccc" stroke-width="0.6" />
<text x="280.60" y="579.80" font-size="9.5" text-anchor="end" font-weight="bold" fill="#111" >40</text>
<line x1="285.50" y1="550.55" x2="288.00" y2="550.55" stroke="#ccc" stroke-width="0.6" />
<line x1="456.30" y1="550.55" x2="453.80" y2="550.55" stroke="#ccc" stroke-width="0.6" />
<text x="280.60" y="553.45" font-size="9.5" text-anchor="end" font-weight="bold" fill="#111" >60</text>
<line x1="285.50" y1="524.20" x2="288.00" y2="524.20" stroke="#ccc" stroke-width="0.6" />
<line x1="456.30" y1="524.20" x2="453.80" y2="524.20" stroke="#ccc" stroke-width="0.6" />
<text x="280.60" y="527.10" font-size="9.5" text-anchor="end" font-weight="bold" fill="#111" >80</text>
<line x1="285.50" y1="497.85" x2="288.00" y2="497.85" stroke="#ccc" stroke-width="0.6" />
<line x1="456.30" y1="497.85" x2="453.80" y2="497.85" stroke="#ccc" stroke-width="0.6" />
<text x="280.60" y="500.75" font-size="9.5" text-anchor="end" font-weight="bold" fill="#111" >100</text>
<line x1="285.50" y1="471.50" x2="288.00" y2="471.50" stroke="#ccc" stroke-width="0.6" />
<line x1="456.30" y1="471.50" x2="453.80" y2="471.50" stroke="#ccc" stroke-width="0.6" />
<text x="280.60" y="474.40" font-size="9.5" text-anchor="end" font-weight="bold" fill="#111" >120</text>
<line x1="285.30" y1="642.00" x2="285.30" y2="639.50" stroke="#ccc" stroke-width="0.6" />
<line x1="285.30" y1="471.10" x2="285.30" y2="473.60" stroke="#ccc" stroke-width="0.6" />
<text x="285.30" y="656.00" font-size="9.5" text-anchor="middle" font-weight="bold" fill="#111" >0.0001</text>
<line x1="313.90" y1="642.00" x2="313.90" y2="639.50" stroke="#ccc" stroke-width="0.6" />
<line x1="313.90" y1="471.10" x2="313.90" y2="473.60" stroke="#ccc" stroke-width="0.6" />
<text x="313.90" y="656.00" font-size="9.5" text-anchor="middle" font-weight="bold" fill="#111" >0.001</text>
<line x1="342.50" y1="642.00" x2="342.50" y2="639.50" stroke="#ccc" stroke-width="0.6" />
<line x1="342.50" y1="471.10" x2="342.50" y2="473.60" stroke="#ccc" stroke-width="0.6" />
<text x="342.50" y="656.00" font-size="9.5" text-anchor="middle" font-weight="bold" fill="#111" >0.01</text>
<line x1="371.10" y1="642.00" x2="371.10" y2="639.50" stroke="#ccc" stroke-width="0.6" />
<line x1="371.10" y1="471.10" x2="371.10" y2="473.60" stroke="#ccc" stroke-width="0.6" />
<text x="371.10" y="656.00" font-size="9.5" text-anchor="middle" font-weight="bold" fill="#111" >0.1</text>
<line x1="399.70" y1="642.00" x2="399.70" y2="639.50" stroke="#ccc" stroke-width="0.6" />
<line x1="399.70" y1="471.10" x2="399.70" y2="473.60" stroke="#ccc" stroke-width="0.6" />
<text x="399.70" y="656.00" font-size="9.5" text-anchor="middle" font-weight="bold" fill="#111" >1</text>
<line x1="428.30" y1="642.00" x2="428.30" y2="639.50" stroke="#ccc" stroke-width="0.6" />
<line x1="428.30" y1="471.10" x2="428.30" y2="473.60" stroke="#ccc" stroke-width="0.6" />
<text x="428.30" y="656.00" font-size="9.5" text-anchor="middle" font-weight="bold" fill="#111" >10</text>
<text x="370.80" y="674.00" font-size="9.3" text-anchor="middle" font-weight="normal" fill="#1a1a1a"  class="n">[DH&#946;E] (&#956;M)</text>
<text x="251.10" y="567.90" font-size="9.6" text-anchor="middle" font-weight="normal" fill="#1a1a1a" transform="rotate(-90 251.10 567.90)"  class="n">% Control Dopamine Release</text>
<text x="262.80" y="567.90" font-size="9.5" text-anchor="middle" font-weight="normal" fill="#1a1a1a" transform="rotate(-90 262.80 567.90)"  class="n">Evoked by Nicotine (3&#956;M)</text>
<text x="432.50" y="501.10" font-size="19" text-anchor="middle" font-weight="bold" fill="#000" >F</text>
<text x="284.60" y="603.00" font-size="8" text-anchor="start" font-weight="normal" fill="#1a1a1a"  class="n">&#945;CtxMII-</text>
<text x="284.60" y="612.10" font-size="8" text-anchor="start" font-weight="normal" fill="#1a1a1a"  class="n">resistant</text>
<text x="284.60" y="624.10" font-size="8" text-anchor="start" font-weight="normal" fill="#1a1a1a"  class="n">&#945;CtxMII-</text>
<text x="284.60" y="633.20" font-size="8" text-anchor="start" font-weight="normal" fill="#1a1a1a"  class="n">sensitive</text>
<path d="M313.90,507.52 L314.97,508.01 L316.05,508.54 L317.12,509.11 L318.19,509.73 L319.26,510.39 L320.34,511.11 L321.41,511.88 L322.48,512.71 L323.55,513.60 L324.62,514.56 L325.70,515.58 L326.77,516.68 L327.84,517.85 L328.92,519.10 L329.99,520.42 L331.06,521.83 L332.13,523.33 L333.20,524.91 L334.28,526.59 L335.35,528.35 L336.42,530.20 L337.50,532.14 L338.57,534.17 L339.64,536.28 L340.71,538.48 L341.79,540.76 L342.86,543.11 L343.93,545.53 L345.00,548.02 L346.08,550.57 L347.15,553.16 L348.22,555.79 L349.29,558.46 L350.37,561.14 L351.44,563.84 L352.51,566.54 L353.58,569.24 L354.66,571.91 L355.73,574.56 L356.80,577.17 L357.87,579.73 L358.95,582.25 L360.02,584.70 L361.09,587.08 L362.16,589.39 L363.24,591.62 L364.31,593.77 L365.38,595.83 L366.45,597.81 L367.53,599.69 L368.60,601.49 L369.67,603.20 L370.74,604.81 L371.81,606.34 L372.89,607.79 L373.96,609.15 L375.03,610.43 L376.11,611.63 L377.18,612.75 L378.25,613.81 L379.32,614.79 L380.40,615.71 L381.47,616.56 L382.54,617.35 L383.61,618.09 L384.69,618.78 L385.76,619.41 L386.83,620.00 L387.90,620.55 L388.98,621.06 L390.05,621.52 L391.12,621.96 L392.19,622.36 L393.26,622.72 L394.34,623.06 L395.41,623.38 L396.48,623.67 L397.56,623.93 L398.63,624.18 L399.70,624.40" fill="none" stroke="#444" stroke-width="0.7"/>
<path d="M356.15,484.25 L357.05,484.64 L357.95,485.06 L358.85,485.51 L359.75,485.99 L360.66,486.52 L361.56,487.08 L362.46,487.68 L363.36,488.33 L364.26,489.02 L365.16,489.76 L366.07,490.56 L366.97,491.42 L367.87,492.33 L368.77,493.30 L369.67,494.34 L370.58,495.45 L371.48,496.64 L372.38,497.89 L373.28,499.23 L374.18,500.64 L375.09,502.14 L375.99,503.72 L376.89,505.40 L377.79,507.16 L378.69,509.01 L379.60,510.96 L380.50,512.99 L381.40,515.12 L382.30,517.34 L383.20,519.65 L384.11,522.05 L385.01,524.53 L385.91,527.09 L386.81,529.72 L387.71,532.43 L388.62,535.20 L389.52,538.03 L390.42,540.91 L391.32,543.83 L392.22,546.78 L393.12,549.76 L394.03,552.76 L394.93,555.75 L395.83,558.75 L396.73,561.73 L397.63,564.69 L398.54,567.62 L399.44,570.50 L400.34,573.34 L401.24,576.12 L402.14,578.84 L403.05,581.49 L403.95,584.06 L404.85,586.56 L405.75,588.97 L406.65,591.29 L407.56,593.52 L408.46,595.67 L409.36,597.72 L410.26,599.68 L411.16,601.55 L412.07,603.32 L412.97,605.01 L413.87,606.61 L414.77,608.12 L415.67,609.55 L416.57,610.90 L417.48,612.17 L418.38,613.36 L419.28,614.48 L420.18,615.53 L421.08,616.52 L421.99,617.44 L422.89,618.31 L423.79,619.11 L424.69,619.87 L425.59,620.57 L426.50,621.22 L427.40,621.83 L428.30,622.40" fill="none" stroke="#555" stroke-width="0.6" stroke-dasharray="8,3"/>
<polygon points="356.15,487.14 359.75,490.74 356.15,494.34 352.55,490.74" fill="#c0c0c0" stroke="#222" stroke-width="0.9"/>
<polygon points="371.10,483.31 374.70,486.91 371.10,490.51 367.50,486.91" fill="#c0c0c0" stroke="#222" stroke-width="0.9"/>
<polygon points="384.75,504.00 388.35,507.60 384.75,511.20 381.15,507.60" fill="#c0c0c0" stroke="#222" stroke-width="0.9"/>
<polygon points="399.70,571.06 403.30,574.66 399.70,578.26 396.10,574.66" fill="#c0c0c0" stroke="#222" stroke-width="0.9"/>
<polygon points="413.35,611.64 416.95,615.24 413.35,618.84 409.75,615.24" fill="#c0c0c0" stroke="#222" stroke-width="0.9"/>
<polygon points="428.30,624.81 431.90,628.41 428.30,632.01 424.70,628.41" fill="#c0c0c0" stroke="#222" stroke-width="0.9"/>
<circle cx="313.90" cy="492.58" r="3.3" fill="#000" stroke="none" stroke-width="0.8"/>
<circle cx="327.55" cy="534.34" r="3.3" fill="#000" stroke="none" stroke-width="0.8"/>
<circle cx="342.50" cy="544.88" r="3.3" fill="#000" stroke="none" stroke-width="0.8"/>
<circle cx="356.15" cy="582.96" r="3.3" fill="#000" stroke="none" stroke-width="0.8"/>
<circle cx="371.10" cy="588.23" r="3.3" fill="#000" stroke="none" stroke-width="0.8"/>
<circle cx="384.75" cy="614.05" r="3.3" fill="#000" stroke="none" stroke-width="0.8"/>
<circle cx="399.70" cy="623.54" r="3.3" fill="#000" stroke="none" stroke-width="0.8"/>
</svg></body></html>
